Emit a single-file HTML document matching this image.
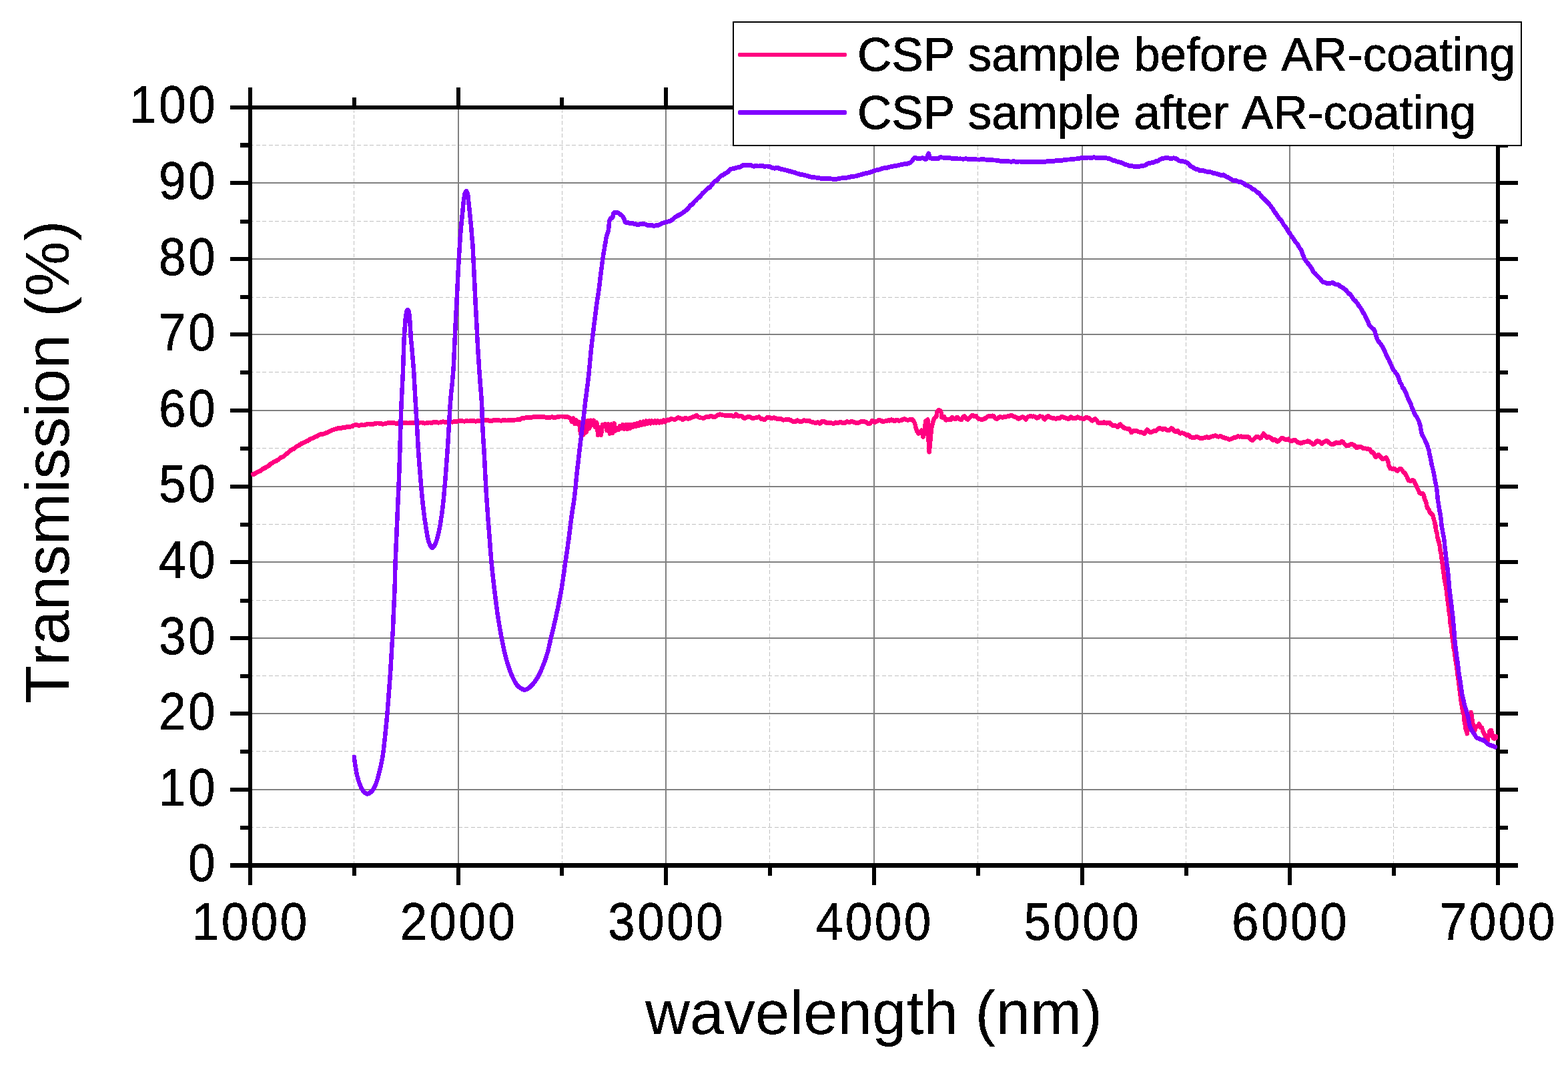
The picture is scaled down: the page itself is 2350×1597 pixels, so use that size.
<!DOCTYPE html>
<html lang="en">
<head>
<meta charset="utf-8">
<title>CSP sample transmission before and after AR-coating</title>
<style>
html,body{margin:0;padding:0;background:#ffffff;}
body{width:2350px;height:1597px;overflow:hidden;}
svg{display:block;}
</style>
</head>
<body>
<svg width="2350" height="1597" viewBox="0 0 2350 1597">
<rect x="0" y="0" width="2350" height="1597" fill="#ffffff"/>
<g stroke="#c0c0c0" stroke-width="1" stroke-dasharray="6 3.475" fill="none" shape-rendering="crispEdges">
<line x1="530.5" y1="162.5" x2="530.5" y2="1294"/>
<line x1="842.5" y1="162.5" x2="842.5" y2="1294"/>
<line x1="1153.5" y1="162.5" x2="1153.5" y2="1294"/>
<line x1="1465.5" y1="162.5" x2="1465.5" y2="1294"/>
<line x1="1777.5" y1="162.5" x2="1777.5" y2="1294"/>
<line x1="2088.5" y1="162.5" x2="2088.5" y2="1294"/>
<line x1="374.2" y1="1239.5" x2="2243" y2="1239.5"/>
<line x1="374.2" y1="1125.5" x2="2243" y2="1125.5"/>
<line x1="374.2" y1="1012.5" x2="2243" y2="1012.5"/>
<line x1="374.2" y1="899.5" x2="2243" y2="899.5"/>
<line x1="374.2" y1="785.5" x2="2243" y2="785.5"/>
<line x1="374.2" y1="671.5" x2="2243" y2="671.5"/>
<line x1="374.2" y1="557.5" x2="2243" y2="557.5"/>
<line x1="374.2" y1="445.5" x2="2243" y2="445.5"/>
<line x1="374.2" y1="331.5" x2="2243" y2="331.5"/>
<line x1="374.2" y1="217.5" x2="2243" y2="217.5"/>
</g>
<g fill="#808080" shape-rendering="crispEdges">
<rect x="686" y="162" width="2" height="1132"/>
<rect x="997" y="162" width="2" height="1132"/>
<rect x="1309" y="162" width="2" height="1132"/>
<rect x="1621" y="162" width="2" height="1132"/>
<rect x="1932" y="162" width="2" height="1132"/>
<rect x="376" y="1182" width="1868" height="2"/>
<rect x="376" y="1068" width="1868" height="2"/>
<rect x="376" y="955" width="1868" height="2"/>
<rect x="376" y="841" width="1868" height="2"/>
<rect x="376" y="728" width="1868" height="2"/>
<rect x="376" y="614" width="1868" height="2"/>
<rect x="376" y="500" width="1868" height="2"/>
<rect x="376" y="387" width="1868" height="2"/>
<rect x="376" y="273" width="1868" height="2"/>
</g>
<g fill="#000000" shape-rendering="crispEdges">
<rect x="345" y="158" width="1930" height="6"/>
<rect x="345" y="1293" width="1930" height="7"/>
<rect x="372" y="131" width="6" height="1195"/>
<rect x="2242" y="131" width="6" height="1195"/>
<rect x="528" y="146" width="6" height="15"/>
<rect x="528" y="1296" width="6" height="16"/>
<rect x="684" y="131" width="6" height="30"/>
<rect x="684" y="1296" width="6" height="30"/>
<rect x="839" y="146" width="6" height="15"/>
<rect x="839" y="1296" width="6" height="16"/>
<rect x="995" y="131" width="6" height="30"/>
<rect x="995" y="1296" width="6" height="30"/>
<rect x="1151" y="146" width="6" height="15"/>
<rect x="1151" y="1296" width="6" height="16"/>
<rect x="1307" y="131" width="6" height="30"/>
<rect x="1307" y="1296" width="6" height="30"/>
<rect x="1463" y="146" width="6" height="15"/>
<rect x="1463" y="1296" width="6" height="16"/>
<rect x="1619" y="131" width="6" height="30"/>
<rect x="1619" y="1296" width="6" height="30"/>
<rect x="1775" y="146" width="6" height="15"/>
<rect x="1775" y="1296" width="6" height="16"/>
<rect x="1930" y="131" width="6" height="30"/>
<rect x="1930" y="1296" width="6" height="30"/>
<rect x="2086" y="146" width="6" height="15"/>
<rect x="2086" y="1296" width="6" height="16"/>
<rect x="360" y="1237" width="15" height="6"/>
<rect x="2245" y="1237" width="15" height="6"/>
<rect x="345" y="1180" width="30" height="6"/>
<rect x="2245" y="1180" width="30" height="6"/>
<rect x="360" y="1123" width="15" height="6"/>
<rect x="2245" y="1123" width="15" height="6"/>
<rect x="345" y="1066" width="30" height="6"/>
<rect x="2245" y="1066" width="30" height="6"/>
<rect x="360" y="1010" width="15" height="6"/>
<rect x="2245" y="1010" width="15" height="6"/>
<rect x="345" y="953" width="30" height="6"/>
<rect x="2245" y="953" width="30" height="6"/>
<rect x="360" y="897" width="15" height="6"/>
<rect x="2245" y="897" width="15" height="6"/>
<rect x="345" y="839" width="30" height="6"/>
<rect x="2245" y="839" width="30" height="6"/>
<rect x="360" y="783" width="15" height="6"/>
<rect x="2245" y="783" width="15" height="6"/>
<rect x="345" y="726" width="30" height="6"/>
<rect x="2245" y="726" width="30" height="6"/>
<rect x="360" y="669" width="15" height="6"/>
<rect x="2245" y="669" width="15" height="6"/>
<rect x="345" y="612" width="30" height="6"/>
<rect x="2245" y="612" width="30" height="6"/>
<rect x="360" y="555" width="15" height="6"/>
<rect x="2245" y="555" width="15" height="6"/>
<rect x="345" y="498" width="30" height="6"/>
<rect x="2245" y="498" width="30" height="6"/>
<rect x="360" y="442" width="15" height="6"/>
<rect x="2245" y="442" width="15" height="6"/>
<rect x="345" y="385" width="30" height="6"/>
<rect x="2245" y="385" width="30" height="6"/>
<rect x="360" y="329" width="15" height="6"/>
<rect x="2245" y="329" width="15" height="6"/>
<rect x="345" y="271" width="30" height="6"/>
<rect x="2245" y="271" width="30" height="6"/>
<rect x="360" y="214" width="15" height="7"/>
<rect x="2245" y="214" width="15" height="7"/>
</g>
<g fill="none" stroke-linejoin="round" stroke-linecap="round" shape-rendering="crispEdges" transform="scale(1,1.06)">
<path d="M379.2,670.41 L380.6,670.04 L382.0,669.42 L383.4,668.50 L384.8,667.64 L386.2,667.06 L387.6,666.47 L389.0,665.91 L390.4,665.35 L391.6,664.47 L392.9,663.48 L394.1,662.61 L395.4,662.09 L396.6,661.56 L397.9,660.92 L399.1,660.26 L400.4,659.61 L401.6,658.98 L402.9,658.29 L404.1,657.11 L405.4,655.94 L406.6,655.18 L407.9,654.54 L409.2,653.78 L410.5,652.86 L411.8,652.03 L413.1,651.73 L414.4,651.42 L415.6,650.65 L416.9,649.79 L418.2,648.73 L419.5,647.52 L420.8,646.62 L422.0,646.40 L423.2,646.19 L424.4,645.43 L425.5,644.62 L426.7,643.71 L427.9,642.71 L429.1,641.73 L430.3,640.90 L431.5,640.07 L432.6,639.06 L433.8,637.97 L435.0,636.94 L436.2,636.11 L437.5,635.29 L438.7,634.84 L440.0,634.44 L441.2,633.70 L442.5,632.67 L443.7,631.69 L445.0,631.04 L446.2,630.39 L447.5,629.70 L448.7,629.00 L450.0,628.24 L451.2,627.37 L452.5,626.55 L453.8,626.13 L455.1,625.72 L456.4,625.11 L457.6,624.41 L458.9,623.78 L460.2,623.34 L461.5,622.91 L462.8,622.04 L464.1,621.15 L465.4,620.41 L466.7,619.92 L468.1,619.40 L469.4,618.75 L470.8,618.10 L472.1,617.61 L473.5,617.15 L474.8,616.58 L476.2,615.89 L477.5,615.20 L478.9,614.52 L480.2,613.84 L481.6,613.58 L483.0,613.58 L484.5,613.39 L485.9,612.91 L487.4,612.42 L488.8,611.84 L490.3,611.27 L491.7,610.70 L493.2,610.14 L494.6,609.48 L496.1,608.75 L497.5,608.07 L499.0,607.54 L500.4,607.01 L501.8,606.57 L503.3,606.30 L504.8,605.90 L506.3,605.45 L507.7,605.21 L509.2,605.35 L510.7,605.46 L512.2,604.91 L513.6,604.36 L515.1,604.20 L516.6,604.18 L518.1,603.91 L519.6,603.37 L521.1,602.91 L522.6,603.05 L524.1,603.18 L525.7,602.93 L527.2,602.62 L528.7,602.02 L530.2,601.21 L531.7,600.74 L533.2,600.75 L534.6,600.75 L536.1,601.05 L537.6,601.37 L539.0,601.29 L540.5,600.88 L542.0,600.59 L543.5,600.79 L544.9,600.98 L546.4,600.61 L547.9,600.10 L549.4,599.67 L550.8,599.32 L552.3,599.03 L553.8,599.25 L555.3,599.47 L556.7,599.50 L558.2,599.46 L559.7,599.26 L561.1,598.80 L562.6,598.34 L564.1,598.21 L565.7,598.07 L567.2,598.13 L568.7,598.28 L570.2,598.52 L571.8,598.92 L573.3,599.26 L574.8,599.11 L576.3,598.96 L577.8,598.58 L579.4,598.14 L580.9,597.96 L582.4,598.03 L583.9,598.06 L585.5,597.95 L587.0,597.84 L588.5,597.79 L590.0,597.75 L591.6,598.02 L593.1,598.48 L594.6,598.67 L596.1,598.24 L597.5,597.81 L599.0,597.99 L600.5,598.21 L602.0,598.23 L603.5,598.13 L605.0,598.00 L606.5,597.81 L608.0,597.61 L609.4,597.88 L610.9,598.19 L612.4,598.11 L613.9,597.69 L615.4,597.42 L616.9,597.71 L618.4,598.01 L619.9,597.75 L621.4,597.38 L622.8,597.27 L624.3,597.44 L625.8,597.56 L627.3,597.40 L628.8,597.24 L630.3,597.21 L631.7,597.22 L633.2,597.40 L634.7,597.82 L636.2,598.22 L637.7,598.08 L639.1,597.95 L640.6,597.67 L642.1,597.33 L643.6,597.17 L645.1,597.49 L646.6,597.80 L648.1,597.31 L649.6,596.81 L651.1,596.69 L652.6,596.75 L654.1,596.87 L655.6,597.11 L657.1,597.34 L658.6,597.15 L660.1,596.95 L661.6,596.61 L663.1,596.20 L664.6,596.11 L666.1,596.62 L667.6,597.12 L669.1,596.56 L670.6,596.00 L672.1,595.80 L673.6,595.77 L675.1,595.85 L676.6,596.12 L678.1,596.38 L679.6,596.03 L681.1,595.69 L682.6,595.52 L684.1,595.45 L685.6,595.34 L687.1,595.15 L688.7,594.96 L690.2,594.93 L691.7,594.89 L693.2,595.08 L694.7,595.35 L696.2,595.40 L697.7,595.13 L699.2,594.91 L700.7,595.10 L702.2,595.28 L703.8,595.16 L705.3,594.97 L706.8,594.87 L708.3,594.87 L709.8,594.92 L711.3,595.20 L712.8,595.48 L714.3,595.23 L715.8,594.87 L717.3,594.71 L718.9,594.72 L720.4,594.76 L721.9,594.90 L723.4,595.04 L724.9,594.64 L726.4,594.16 L727.9,593.91 L729.4,593.86 L730.9,593.92 L732.4,594.37 L733.9,594.82 L735.4,594.79 L736.9,594.69 L738.4,594.43 L739.9,594.02 L741.4,593.69 L742.9,593.62 L744.4,593.55 L745.9,593.83 L747.4,594.15 L748.9,594.34 L750.4,594.43 L751.9,594.38 L753.4,593.87 L754.9,593.35 L756.4,593.71 L757.9,594.16 L759.4,594.31 L760.9,594.23 L762.4,594.12 L763.9,593.90 L765.3,593.80 L766.8,593.76 L768.2,593.72 L769.6,593.65 L771.1,593.53 L772.5,593.41 L773.9,593.44 L775.4,592.91 L776.9,592.81 L778.3,592.94 L779.8,592.62 L781.3,591.65 L782.7,590.80 L784.2,590.62 L785.6,590.82 L787.1,590.55 L788.5,590.18 L790.0,590.06 L791.4,590.33 L792.9,590.59 L794.3,590.36 L795.8,590.12 L797.2,589.86 L798.7,589.58 L800.1,589.32 L801.6,589.15 L803.0,588.99 L804.4,589.13 L806.0,589.51 L807.5,589.56 L809.0,589.16 L810.5,588.81 L812.0,588.94 L813.6,589.07 L815.1,589.28 L816.6,589.52 L818.1,589.75 L819.6,589.96 L821.2,590.10 L822.7,589.97 L824.2,589.83 L825.7,589.64 L827.2,589.44 L828.8,589.63 L830.3,590.07 L831.8,590.24 L833.3,589.80 L834.8,589.35 L836.3,589.08 L837.7,588.81 L839.2,588.70 L840.6,588.71 L842.1,588.70 L843.5,588.77 L845.0,588.67 L846.5,588.85 L848.0,588.99 L849.6,589.22 L851.1,589.52 L852.4,590.10 L853.7,590.69 L855.0,591.29 L855.5,592.57 L856.1,593.85 L856.6,595.08 L857.1,596.17 L857.7,594.81 L858.2,593.62 L858.8,592.47 L859.3,591.34 L859.8,592.92 L860.2,594.51 L860.6,595.95 L861.1,597.39 L861.5,598.72 L862.2,597.11 L863.0,595.59 L863.7,594.11 L864.2,595.46 L864.8,596.80 L865.3,598.09 L865.9,599.31 L867.0,597.93 L868.1,596.66 L868.3,598.05 L868.5,599.48 L868.7,600.90 L868.8,602.53 L869.0,604.25 L869.2,605.83 L869.4,607.19 L869.6,608.56 L869.8,610.08 L870.0,611.59 L870.2,612.79 L870.4,611.08 L870.6,609.63 L870.8,608.43 L871.0,607.19 L871.2,605.74 L871.4,604.29 L871.6,602.95 L871.8,601.63 L872.0,600.21 L872.2,598.67 L872.4,597.19 L872.6,598.80 L872.8,600.42 L873.0,601.63 L873.1,602.73 L873.3,604.02 L873.5,605.57 L873.7,607.11 L873.9,608.57 L874.1,610.03 L874.2,611.48 L874.4,612.93 L874.6,614.33 L874.8,612.84 L875.0,611.35 L875.1,609.90 L875.3,608.45 L875.5,607.04 L875.7,605.63 L875.9,604.23 L876.1,602.83 L876.2,601.37 L876.4,599.74 L876.6,598.12 L876.8,596.79 L877.0,598.26 L877.2,599.71 L877.4,601.15 L877.7,602.57 L877.9,603.93 L878.1,605.29 L878.3,606.53 L878.5,607.76 L878.7,609.12 L879.0,610.61 L879.2,609.26 L879.4,607.82 L879.6,606.38 L879.8,604.83 L880.0,603.27 L880.2,601.79 L880.4,600.35 L880.6,598.86 L880.8,597.32 L880.9,595.81 L881.1,594.41 L881.4,595.82 L881.7,597.17 L882.0,598.52 L882.2,599.79 L882.5,600.97 L882.8,602.16 L883.1,603.68 L883.3,605.20 L883.6,603.95 L883.9,602.68 L884.1,601.36 L884.4,599.94 L884.7,598.52 L885.0,597.09 L885.2,595.66 L885.5,594.19 L885.9,595.30 L886.4,596.44 L886.8,597.75 L887.3,599.07 L887.7,600.31 L888.2,598.81 L888.8,597.31 L889.3,595.81 L889.9,594.34 L890.2,595.77 L890.5,597.20 L890.8,598.38 L891.1,599.46 L891.4,600.63 L891.7,602.14 L892.1,603.65 L892.5,602.25 L892.9,600.75 L893.4,599.37 L893.8,598.26 L894.2,597.15 L894.4,598.50 L894.6,599.82 L894.7,601.12 L894.9,602.40 L895.1,603.68 L895.2,605.19 L895.4,606.69 L895.6,608.06 L895.7,609.36 L895.9,610.67 L896.1,612.06 L896.3,613.46 L896.4,614.89 L896.7,613.52 L897.0,611.96 L897.4,610.25 L897.7,608.58 L898.0,607.01 L898.3,605.47 L898.6,604.09 L898.9,605.53 L899.1,606.99 L899.4,608.46 L899.7,609.80 L900.0,611.00 L900.2,612.21 L900.5,613.55 L900.8,614.89 L901.0,613.67 L901.2,612.54 L901.4,611.32 L901.6,609.88 L901.8,608.44 L902.0,607.01 L902.2,605.57 L902.4,604.24 L902.6,603.01 L902.8,601.77 L903.0,600.23 L904.1,601.28 L905.1,602.63 L905.9,601.66 L906.6,600.57 L907.3,599.36 L907.7,600.64 L908.1,602.13 L908.4,603.63 L908.8,605.16 L909.1,606.71 L909.5,608.20 L909.9,606.82 L910.2,605.42 L910.6,603.99 L911.0,602.56 L911.3,600.98 L911.7,599.39 L911.9,600.85 L912.2,602.37 L912.4,603.81 L912.7,605.17 L912.9,606.54 L913.1,607.93 L913.4,609.32 L913.6,610.89 L913.9,612.47 L914.1,611.13 L914.4,609.79 L914.6,608.40 L914.8,606.95 L915.1,605.49 L915.3,604.00 L915.6,602.50 L915.8,601.13 L916.1,599.76 L916.3,601.01 L916.5,602.19 L916.8,603.44 L917.0,604.80 L917.3,606.17 L917.5,607.66 L917.8,609.14 L918.0,610.52 L918.2,611.86 L918.5,610.46 L918.7,609.09 L918.9,607.71 L919.1,606.42 L919.3,605.13 L919.5,603.84 L919.8,602.55 L920.0,601.24 L920.2,599.85 L920.4,598.45 L920.7,599.79 L921.0,601.14 L921.4,602.58 L921.7,604.15 L922.0,605.71 L922.3,607.15 L922.6,608.60 L923.3,607.52 L924.1,606.41 L924.8,605.29 L925.9,606.34 L927.0,607.39 L927.5,605.90 L928.1,604.42 L928.6,603.19 L929.1,602.02 L929.9,603.27 L930.6,604.33 L931.3,605.63 L931.9,604.44 L932.4,603.16 L933.0,601.69 L933.5,600.21 L934.1,601.55 L934.6,602.88 L935.1,604.46 L935.7,606.05 L936.2,604.56 L936.8,602.97 L937.3,601.50 L937.9,600.20 L938.4,601.73 L939.0,603.32 L939.5,604.88 L940.1,606.20 L940.5,604.79 L940.9,603.68 L941.4,602.64 L941.8,601.44 L942.2,599.97 L942.8,601.19 L943.3,602.57 L943.9,603.95 L944.4,605.33 L945.0,603.88 L945.5,602.59 L946.1,601.38 L946.6,600.05 L947.3,601.04 L948.1,602.04 L948.8,603.14 L949.5,601.90 L950.2,600.64 L951.0,599.35 L951.7,600.37 L952.4,601.43 L953.1,602.48 L953.9,601.10 L954.6,599.71 L955.3,598.25 L956.1,599.32 L956.8,600.38 L957.5,601.39 L958.1,600.07 L958.6,598.89 L959.1,597.79 L959.7,596.69 L960.4,597.87 L961.1,599.05 L961.9,600.26 L962.6,598.70 L963.3,597.29 L964.0,595.97 L964.8,597.28 L965.5,598.56 L966.2,599.79 L967.0,598.17 L967.7,596.57 L968.4,595.18 L969.1,596.35 L969.9,597.52 L970.6,598.68 L971.3,597.48 L972.0,596.33 L972.8,595.16 L973.5,596.17 L974.2,597.18 L975.0,598.22 L975.7,597.12 L976.4,596.02 L977.1,594.94 L978.2,596.37 L979.3,597.64 L980.0,596.57 L980.8,595.57 L981.5,594.71 L982.6,596.19 L983.7,597.56 L984.8,596.41 L985.9,594.93 L987.0,595.83 L988.0,597.26 L989.1,596.42 L990.2,595.30 L991.3,596.15 L992.4,596.95 L993.5,595.36 L994.6,593.92 L995.7,595.06 L996.8,596.19 L997.5,595.25 L998.2,594.32 L999.0,593.40 L1000.5,593.33 L1002.0,594.27 L1003.5,593.27 L1005.0,592.27 L1006.6,592.26 L1008.1,592.39 L1009.6,592.63 L1011.1,592.96 L1012.3,592.63 L1013.5,591.87 L1014.7,591.11 L1015.8,590.56 L1017.0,590.13 L1018.4,591.07 L1019.7,591.21 L1021.0,591.54 L1022.3,592.83 L1023.8,592.83 L1025.3,591.86 L1026.9,590.87 L1028.4,590.96 L1029.9,591.49 L1031.4,591.73 L1032.8,591.46 L1034.2,591.16 L1035.6,590.47 L1037.1,589.79 L1038.5,589.40 L1039.9,589.10 L1041.3,588.44 L1042.8,587.83 L1044.2,587.21 L1045.6,588.33 L1047.1,589.47 L1048.5,590.12 L1049.9,590.36 L1051.4,590.60 L1052.8,590.72 L1054.2,590.84 L1055.7,590.52 L1057.2,589.67 L1058.7,589.22 L1060.2,589.45 L1061.8,589.60 L1063.3,588.71 L1064.8,587.81 L1066.3,588.22 L1067.8,588.98 L1069.3,589.29 L1070.7,589.09 L1072.1,588.89 L1073.5,588.03 L1074.9,587.17 L1076.4,586.51 L1077.8,586.00 L1079.2,585.59 L1080.6,585.99 L1082.0,586.40 L1083.7,586.71 L1085.3,586.89 L1086.9,587.17 L1088.5,587.53 L1090.2,587.58 L1091.7,587.61 L1093.2,587.58 L1094.7,587.31 L1096.2,587.04 L1097.5,587.81 L1098.9,588.61 L1100.2,588.36 L1101.6,586.98 L1102.9,585.59 L1104.3,586.24 L1105.8,587.89 L1107.2,588.26 L1108.7,587.76 L1110.1,587.67 L1111.6,588.41 L1113.0,589.18 L1114.5,590.39 L1116.0,591.15 L1117.5,590.59 L1119.0,589.63 L1120.5,589.16 L1122.1,589.22 L1123.6,589.38 L1125.1,590.01 L1126.6,590.64 L1128.0,590.69 L1129.4,590.70 L1130.8,590.67 L1132.1,590.56 L1133.5,590.45 L1134.9,589.99 L1136.3,589.49 L1137.6,589.23 L1138.9,590.60 L1140.2,591.71 L1141.5,591.90 L1142.8,592.18 L1144.3,592.72 L1145.7,593.26 L1147.1,592.50 L1148.6,591.08 L1150.0,590.03 L1151.5,590.09 L1152.9,590.16 L1154.4,590.55 L1156.0,590.98 L1157.5,590.97 L1159.0,590.56 L1160.5,590.40 L1162.0,591.04 L1163.6,591.68 L1165.1,591.56 L1166.5,591.67 L1168.0,591.75 L1169.4,591.82 L1170.9,592.04 L1172.4,592.77 L1173.8,593.50 L1175.3,593.44 L1176.8,593.21 L1178.3,593.01 L1179.8,592.84 L1181.3,592.79 L1182.8,593.12 L1184.4,593.44 L1185.9,594.36 L1187.4,595.31 L1188.9,595.81 L1190.4,596.11 L1191.9,595.94 L1193.4,595.07 L1194.9,593.98 L1196.3,594.75 L1197.8,595.52 L1199.3,595.74 L1200.7,595.72 L1202.2,595.42 L1203.6,594.56 L1205.1,594.15 L1206.5,594.44 L1207.9,594.77 L1209.4,594.76 L1210.8,594.46 L1212.3,594.33 L1213.7,595.09 L1215.2,595.98 L1216.7,596.36 L1218.3,596.66 L1219.8,597.09 L1221.3,597.60 L1222.8,597.71 L1224.3,597.13 L1225.8,596.87 L1227.1,597.63 L1228.3,598.39 L1229.6,598.01 L1230.8,596.81 L1232.0,595.63 L1233.5,595.69 L1235.1,595.75 L1236.6,596.43 L1238.1,597.30 L1239.6,597.68 L1241.1,597.55 L1242.7,597.47 L1244.2,597.60 L1245.6,597.68 L1247.0,598.10 L1248.5,598.58 L1249.9,598.51 L1251.3,597.77 L1252.8,597.08 L1254.2,597.96 L1255.4,598.07 L1256.7,597.73 L1257.9,597.00 L1259.1,596.26 L1260.4,596.45 L1261.9,597.43 L1263.5,597.83 L1265.1,597.88 L1266.6,597.55 L1268.2,596.60 L1269.8,595.88 L1271.3,596.31 L1272.9,596.75 L1274.5,596.36 L1275.8,595.87 L1277.2,595.86 L1278.6,596.30 L1280.0,596.73 L1281.5,597.14 L1283.0,597.56 L1284.4,597.68 L1285.9,597.65 L1287.4,597.38 L1288.9,596.56 L1290.4,595.74 L1291.8,595.81 L1293.2,595.90 L1294.6,596.01 L1296.0,596.14 L1297.4,596.36 L1298.8,597.31 L1300.2,598.27 L1301.6,599.10 L1303.0,598.97 L1304.3,598.28 L1305.7,596.45 L1307.1,594.66 L1308.4,595.06 L1309.7,596.47 L1311.0,596.70 L1312.3,596.10 L1313.6,595.60 L1314.8,595.07 L1315.9,594.53 L1317.1,593.87 L1318.5,594.03 L1319.9,594.26 L1321.3,595.03 L1322.7,595.80 L1324.1,595.81 L1325.5,595.39 L1326.9,595.06 L1328.3,595.21 L1329.4,594.69 L1330.6,594.33 L1331.7,594.11 L1333.2,594.57 L1334.6,593.92 L1336.0,593.23 L1337.5,593.44 L1338.9,594.44 L1340.4,595.25 L1342.0,594.31 L1343.6,593.37 L1345.2,593.92 L1346.8,594.62 L1348.4,594.54 L1350.0,594.18 L1351.6,594.00 L1353.0,592.98 L1354.4,592.28 L1355.8,591.94 L1357.3,592.84 L1358.7,593.33 L1360.2,593.83 L1361.5,593.53 L1362.9,593.23 L1364.3,593.03 L1365.7,592.87 L1367.0,592.74 L1367.9,593.82 L1368.8,594.91 L1369.7,595.61 L1370.2,596.45 L1370.7,597.52 L1371.2,599.05 L1371.8,600.70 L1372.3,602.87 L1372.7,604.81 L1373.1,606.18 L1373.6,607.50 L1374.0,608.73 L1374.4,609.87 L1375.5,611.01 L1376.6,612.74 L1377.8,612.10 L1378.9,610.60 L1380.1,609.09 L1381.3,608.39 L1381.6,610.03 L1381.9,610.85 L1382.2,611.24 L1382.5,611.88 L1382.8,613.89 L1383.2,615.91 L1383.5,617.51 L1383.9,616.23 L1384.3,614.96 L1384.8,613.71 L1385.2,612.42 L1385.6,610.10 L1385.8,607.87 L1385.9,606.24 L1386.1,604.89 L1386.2,603.77 L1386.4,603.31 L1386.5,602.85 L1386.6,600.75 L1386.8,598.35 L1386.9,596.88 L1387.1,596.68 L1387.2,596.47 L1387.4,594.95 L1388.9,594.35 L1390.4,593.01 L1390.4,593.26 L1390.5,594.02 L1390.5,595.58 L1390.6,597.16 L1390.6,599.30 L1390.7,601.44 L1390.7,602.60 L1390.8,603.29 L1390.8,604.13 L1390.8,605.28 L1390.9,606.43 L1390.9,608.88 L1391.0,611.40 L1391.0,612.88 L1391.1,613.66 L1391.1,614.71 L1391.2,616.67 L1391.2,618.63 L1391.3,619.23 L1391.4,619.63 L1391.5,620.95 L1391.6,622.84 L1391.8,624.74 L1391.9,626.64 L1392.0,628.41 L1392.1,628.81 L1392.2,629.21 L1392.3,630.71 L1392.4,632.45 L1392.5,634.46 L1392.6,636.68 L1392.7,638.78 L1392.9,637.69 L1393.0,636.59 L1393.1,635.22 L1393.3,633.86 L1393.4,631.39 L1393.6,628.58 L1393.7,626.77 L1393.8,625.94 L1394.0,625.05 L1394.1,623.99 L1394.3,622.94 L1394.4,621.09 L1394.5,619.23 L1394.7,617.88 L1394.9,616.71 L1395.1,615.02 L1395.3,612.77 L1395.5,610.65 L1395.7,609.00 L1395.9,607.35 L1396.0,605.95 L1396.2,604.54 L1396.4,603.01 L1396.6,601.44 L1396.8,600.34 L1397.2,599.79 L1397.6,599.16 L1397.9,597.80 L1398.3,596.45 L1398.7,595.18 L1399.0,593.96 L1399.4,592.60 L1400.7,591.14 L1402.0,589.69 L1403.3,588.90 L1403.5,587.57 L1403.7,586.22 L1403.9,584.85 L1404.0,583.72 L1404.2,583.30 L1404.4,582.88 L1404.6,581.79 L1405.9,580.84 L1407.2,579.56 L1408.0,580.57 L1408.9,580.87 L1409.7,580.74 L1410.1,581.19 L1410.4,582.58 L1410.8,584.01 L1411.2,586.87 L1411.5,589.73 L1412.8,589.81 L1414.1,589.44 L1415.3,589.16 L1416.0,590.71 L1416.7,592.25 L1417.3,593.27 L1418.0,593.79 L1419.3,593.08 L1420.7,593.16 L1422.1,593.27 L1423.5,593.33 L1424.9,593.31 L1425.4,592.30 L1426.0,591.15 L1426.6,589.97 L1427.9,590.50 L1429.2,591.34 L1430.5,592.18 L1431.8,592.19 L1432.9,590.88 L1434.1,589.75 L1435.2,590.12 L1436.7,591.53 L1438.2,592.38 L1439.7,592.92 L1441.2,593.01 L1442.3,591.07 L1443.4,589.14 L1444.5,588.61 L1445.6,588.09 L1446.6,589.42 L1447.6,590.76 L1448.7,591.95 L1449.7,592.38 L1450.7,592.82 L1451.9,591.55 L1453.0,590.33 L1454.2,589.22 L1455.3,588.28 L1456.5,587.35 L1457.6,586.99 L1458.9,587.94 L1460.2,588.23 L1461.5,587.99 L1462.8,587.81 L1464.1,589.52 L1465.4,591.23 L1466.8,592.12 L1468.2,592.33 L1469.5,592.54 L1470.9,592.74 L1472.3,592.94 L1473.7,592.42 L1475.0,592.03 L1476.4,591.46 L1477.7,590.48 L1479.1,589.49 L1480.4,588.52 L1481.9,587.99 L1483.3,587.86 L1484.8,587.95 L1486.2,587.96 L1487.6,587.62 L1488.9,588.13 L1490.1,589.28 L1491.3,590.61 L1492.6,591.67 L1493.8,592.05 L1495.2,591.46 L1496.7,590.39 L1498.1,589.24 L1499.5,588.99 L1501.0,589.65 L1502.4,590.17 L1503.9,589.59 L1505.3,589.14 L1506.8,588.92 L1508.2,588.77 L1509.7,588.62 L1511.2,588.48 L1512.6,588.33 L1514.1,587.51 L1515.7,587.02 L1517.3,587.69 L1518.9,588.70 L1520.6,589.18 L1522.2,589.35 L1523.2,590.05 L1524.2,590.60 L1525.2,591.15 L1526.2,591.96 L1527.7,591.38 L1529.2,590.75 L1530.7,590.05 L1532.2,589.12 L1533.5,589.46 L1534.8,590.06 L1536.1,591.53 L1537.4,592.85 L1538.8,591.03 L1540.2,589.21 L1541.6,588.77 L1543.0,588.47 L1544.4,587.99 L1545.9,588.66 L1547.4,588.79 L1549.0,588.50 L1550.5,588.73 L1552.1,589.77 L1553.6,590.78 L1554.9,590.42 L1556.1,590.05 L1557.4,589.25 L1558.6,588.43 L1560.1,588.65 L1561.5,588.66 L1562.9,589.44 L1564.3,591.24 L1565.8,592.69 L1567.1,591.28 L1568.5,589.87 L1569.8,588.37 L1571.3,588.26 L1572.7,589.07 L1574.2,589.96 L1575.7,590.46 L1577.1,590.71 L1578.6,590.99 L1580.1,591.33 L1581.5,591.66 L1583.0,591.83 L1584.3,591.02 L1585.7,591.01 L1587.0,591.35 L1588.4,591.19 L1589.7,590.05 L1591.1,588.92 L1592.6,589.35 L1594.1,589.80 L1595.7,590.24 L1597.2,590.69 L1598.7,591.26 L1600.2,591.96 L1601.7,592.14 L1603.2,590.95 L1604.8,589.37 L1606.3,590.18 L1607.8,590.98 L1609.3,591.26 L1610.8,591.33 L1612.4,591.00 L1613.9,590.13 L1615.4,589.38 L1616.8,590.17 L1618.1,590.96 L1619.5,591.17 L1620.8,591.21 L1622.2,591.56 L1623.5,592.35 L1624.9,591.62 L1626.2,590.94 L1627.6,590.13 L1628.9,590.22 L1630.3,590.31 L1631.6,590.89 L1633.0,591.61 L1634.3,592.60 L1635.7,594.07 L1637.2,594.66 L1638.7,593.66 L1640.2,592.65 L1641.8,592.06 L1642.8,592.93 L1643.8,594.12 L1644.8,595.71 L1645.8,597.31 L1646.8,597.70 L1647.8,598.05 L1649.4,597.75 L1650.9,598.06 L1652.4,597.98 L1653.9,597.03 L1655.4,596.92 L1656.8,597.58 L1658.3,598.24 L1659.7,597.89 L1661.2,597.16 L1662.6,597.20 L1664.1,598.41 L1665.4,599.81 L1666.8,600.70 L1668.1,601.60 L1669.5,601.45 L1670.8,600.98 L1672.2,601.65 L1673.6,602.60 L1675.0,603.31 L1676.4,601.76 L1677.8,600.20 L1679.3,599.85 L1680.3,601.28 L1681.3,602.41 L1682.3,602.93 L1683.3,603.45 L1684.3,604.79 L1685.8,605.29 L1687.4,605.63 L1688.9,605.81 L1690.4,605.75 L1691.7,605.84 L1692.9,606.25 L1694.2,608.83 L1695.5,611.28 L1696.9,610.22 L1698.3,609.17 L1699.7,608.71 L1701.1,608.59 L1702.5,608.45 L1703.8,609.13 L1705.0,609.81 L1706.2,610.21 L1707.4,610.46 L1708.6,610.74 L1710.1,610.98 L1711.7,611.23 L1713.2,612.09 L1714.7,613.06 L1715.6,612.22 L1716.5,611.10 L1717.4,609.98 L1718.3,608.60 L1719.2,607.22 L1720.6,608.31 L1722.0,609.91 L1723.4,610.79 L1724.8,610.93 L1726.4,610.24 L1727.9,609.69 L1729.4,609.19 L1730.9,609.44 L1732.1,609.06 L1733.3,608.26 L1734.5,607.26 L1735.7,606.33 L1736.9,605.78 L1738.0,605.23 L1739.5,605.75 L1740.9,606.49 L1742.3,606.92 L1743.7,606.27 L1745.1,605.61 L1746.4,606.25 L1747.8,607.22 L1749.1,608.00 L1750.5,608.04 L1751.8,608.08 L1753.2,607.62 L1754.5,606.35 L1755.7,605.15 L1757.0,606.10 L1758.3,607.05 L1759.6,608.71 L1760.8,609.55 L1762.1,610.01 L1763.4,609.50 L1764.7,608.64 L1766.1,610.20 L1767.4,611.82 L1768.8,612.47 L1770.1,612.19 L1771.5,611.94 L1773.0,612.26 L1774.5,612.58 L1776.0,613.42 L1777.5,614.44 L1778.7,615.17 L1779.9,614.88 L1781.2,614.81 L1782.4,616.08 L1783.6,617.34 L1785.1,617.95 L1786.6,618.59 L1788.2,618.73 L1789.7,618.40 L1791.2,618.05 L1792.7,617.65 L1794.2,617.26 L1795.8,617.95 L1797.3,618.94 L1798.8,619.27 L1800.3,619.20 L1801.8,619.11 L1803.4,618.96 L1804.9,618.79 L1806.4,618.21 L1807.9,617.63 L1809.3,617.74 L1810.6,618.21 L1812.0,618.48 L1813.3,617.99 L1814.7,617.50 L1816.1,616.94 L1817.5,616.56 L1818.9,616.22 L1820.4,616.00 L1821.8,615.78 L1823.2,616.28 L1824.7,616.98 L1826.1,617.23 L1827.6,616.79 L1829.0,616.35 L1830.5,616.95 L1831.9,617.60 L1833.4,618.17 L1834.9,618.67 L1836.3,619.06 L1837.5,619.40 L1838.7,619.74 L1839.9,620.10 L1841.1,620.47 L1842.3,620.94 L1843.7,620.79 L1845.0,620.64 L1846.4,619.89 L1847.7,619.00 L1849.1,618.50 L1850.4,618.41 L1852.0,618.31 L1853.5,617.44 L1855.0,616.63 L1856.6,616.94 L1858.1,617.24 L1859.6,616.80 L1861.1,617.21 L1862.6,617.44 L1864.1,617.57 L1865.5,617.51 L1867.0,617.19 L1868.5,617.00 L1870.0,617.35 L1871.5,617.74 L1873.0,619.58 L1874.5,621.43 L1876.0,622.00 L1877.5,622.37 L1878.8,621.17 L1880.1,619.93 L1881.4,618.60 L1882.7,617.19 L1884.2,617.36 L1885.7,617.70 L1887.2,618.24 L1888.8,619.40 L1889.6,618.89 L1890.4,617.61 L1891.3,616.31 L1892.1,615.13 L1892.9,614.04 L1893.8,612.96 L1894.8,614.10 L1895.8,615.23 L1896.8,616.47 L1897.9,617.74 L1898.9,618.38 L1900.2,617.96 L1901.6,617.67 L1902.9,618.14 L1904.3,618.62 L1905.6,619.75 L1907.0,621.20 L1908.3,621.90 L1909.7,621.67 L1911.0,621.43 L1912.1,622.41 L1913.1,623.41 L1914.1,624.03 L1915.1,623.79 L1916.1,623.55 L1917.1,622.49 L1918.1,621.47 L1919.1,620.64 L1920.2,619.92 L1921.2,619.16 L1922.8,619.70 L1924.4,620.25 L1926.0,620.87 L1927.7,621.42 L1929.3,620.82 L1930.7,620.56 L1932.1,621.58 L1933.5,622.83 L1935.0,623.25 L1936.4,623.07 L1938.1,622.28 L1939.8,622.02 L1941.4,622.08 L1942.8,623.46 L1944.1,624.83 L1945.5,625.18 L1946.8,625.49 L1948.2,625.98 L1949.5,626.60 L1951.0,626.33 L1952.4,625.63 L1953.9,624.93 L1955.3,624.68 L1956.8,624.53 L1958.2,624.14 L1959.7,623.42 L1961.0,623.54 L1962.4,624.22 L1963.7,624.90 L1965.1,625.83 L1966.4,626.91 L1967.8,627.89 L1969.0,627.41 L1970.3,626.93 L1971.6,625.50 L1972.9,623.76 L1974.2,623.26 L1975.6,623.57 L1976.9,623.89 L1978.3,624.87 L1979.6,626.09 L1981.0,627.07 L1982.2,626.12 L1983.3,625.17 L1984.5,624.55 L1985.7,624.07 L1986.9,623.39 L1988.1,623.39 L1989.3,623.40 L1990.4,624.28 L1991.6,625.42 L1992.7,626.36 L1993.9,626.94 L1995.0,627.52 L1996.5,627.81 L1997.9,628.14 L1999.3,627.40 L2000.8,626.16 L2002.2,625.41 L2003.7,625.59 L2005.2,625.78 L2006.7,626.04 L2008.2,626.30 L2009.7,625.22 L2011.2,623.91 L2012.5,624.64 L2013.7,625.97 L2015.0,627.29 L2016.2,628.58 L2017.5,629.86 L2019.1,629.96 L2020.7,629.95 L2022.3,628.93 L2024.0,627.91 L2025.6,627.59 L2026.8,628.23 L2028.0,628.68 L2029.1,629.01 L2030.3,629.60 L2031.5,631.46 L2032.9,632.87 L2034.3,632.64 L2035.7,631.74 L2037.1,631.15 L2038.5,631.42 L2039.9,631.70 L2041.3,632.54 L2042.7,633.52 L2044.3,633.97 L2046.0,633.90 L2047.6,633.96 L2049.2,634.36 L2050.8,634.63 L2051.9,634.98 L2052.9,635.32 L2053.9,636.44 L2054.9,638.02 L2055.9,639.38 L2057.0,639.27 L2057.8,639.40 L2058.6,640.49 L2059.4,641.93 L2060.2,643.58 L2061.0,645.51 L2062.3,645.76 L2063.6,644.66 L2064.8,643.56 L2066.1,642.84 L2067.3,643.94 L2068.5,645.04 L2069.7,646.40 L2070.8,647.79 L2072.0,648.88 L2073.3,648.59 L2074.6,648.31 L2075.9,647.58 L2077.2,646.78 L2077.8,647.47 L2078.5,648.45 L2079.1,649.43 L2079.7,650.79 L2080.3,652.27 L2080.7,653.92 L2081.0,655.74 L2081.4,657.56 L2081.8,658.58 L2082.1,659.34 L2082.5,660.15 L2082.9,661.08 L2083.2,662.01 L2084.5,662.17 L2085.8,662.56 L2087.1,662.73 L2088.4,662.10 L2089.9,662.46 L2091.4,663.54 L2092.9,664.72 L2094.5,665.48 L2095.8,664.48 L2097.2,663.42 L2098.5,662.34 L2099.5,662.99 L2100.5,663.39 L2101.6,664.52 L2102.6,666.33 L2103.6,667.61 L2104.6,667.98 L2105.4,668.49 L2106.1,669.67 L2106.9,670.86 L2107.6,672.11 L2108.4,673.40 L2109.2,674.88 L2109.9,676.84 L2110.7,678.80 L2112.0,679.30 L2113.4,679.69 L2114.7,679.70 L2116.1,679.20 L2117.4,678.70 L2118.8,679.28 L2119.5,680.67 L2120.1,681.96 L2120.8,683.18 L2121.5,684.40 L2122.2,685.61 L2122.8,686.82 L2123.5,688.17 L2124.1,689.54 L2124.7,690.87 L2125.3,692.17 L2125.9,693.42 L2126.6,694.44 L2127.2,695.45 L2127.8,697.22 L2129.5,697.59 L2131.2,697.78 L2133.0,697.91 L2133.4,699.12 L2133.8,700.10 L2134.2,701.42 L2134.6,703.26 L2135.1,705.01 L2135.5,705.96 L2135.9,706.91 L2136.4,707.70 L2136.8,708.44 L2137.3,709.81 L2137.7,712.02 L2138.1,714.20 L2138.6,715.72 L2139.0,717.23 L2139.5,717.97 L2140.1,718.37 L2140.6,718.93 L2141.1,719.84 L2141.6,720.75 L2142.1,722.73 L2143.3,724.45 L2144.6,725.65 L2145.9,726.61 L2147.1,727.57 L2147.6,728.98 L2148.0,730.50 L2148.4,732.50 L2148.9,734.51 L2149.3,735.51 L2149.8,736.40 L2150.2,737.72 L2150.4,739.38 L2150.7,740.62 L2150.9,740.88 L2151.2,741.15 L2151.4,743.33 L2151.6,745.50 L2151.9,747.41 L2152.1,749.20 L2152.4,750.37 L2152.7,750.68 L2153.0,751.03 L2153.3,752.41 L2153.6,753.78 L2153.9,755.87 L2154.2,758.25 L2154.6,760.42 L2155.0,762.11 L2155.4,763.57 L2155.8,763.69 L2156.1,763.82 L2156.5,765.96 L2156.9,768.27 L2157.3,769.45 L2157.5,770.09 L2157.7,771.36 L2158.0,773.67 L2158.2,775.95 L2158.5,777.20 L2158.7,778.44 L2159.0,779.36 L2159.2,780.13 L2159.4,781.11 L2159.7,782.47 L2159.9,783.84 L2160.1,786.07 L2160.4,788.29 L2160.6,789.71 L2160.8,790.73 L2161.0,791.99 L2161.2,793.76 L2161.5,795.52 L2161.7,796.36 L2161.9,797.19 L2162.1,798.32 L2162.3,799.63 L2162.5,801.23 L2162.7,803.57 L2162.9,805.90 L2163.0,806.95 L2163.2,807.89 L2163.4,808.92 L2163.6,810.03 L2163.8,811.21 L2163.9,812.66 L2164.1,814.11 L2164.3,815.73 L2164.6,817.38 L2164.8,818.90 L2165.1,820.25 L2165.4,821.64 L2165.7,823.32 L2166.0,825.01 L2166.3,825.91 L2166.5,826.52 L2166.8,827.64 L2167.1,829.65 L2167.4,831.65 L2167.6,832.76 L2167.8,833.88 L2167.9,835.30 L2168.1,836.93 L2168.3,838.51 L2168.5,839.79 L2168.6,841.08 L2168.8,842.44 L2169.0,843.84 L2169.2,845.25 L2169.4,846.69 L2169.5,848.12 L2169.7,849.58 L2169.9,851.03 L2170.1,852.22 L2170.2,853.11 L2170.4,854.04 L2170.6,855.23 L2170.8,856.43 L2171.0,857.95 L2171.1,859.60 L2171.3,861.20 L2171.5,862.71 L2171.7,864.22 L2171.8,865.07 L2172.0,865.87 L2172.2,866.97 L2172.4,868.34 L2172.5,869.64 L2172.7,870.60 L2172.9,871.55 L2173.0,873.46 L2173.2,875.71 L2173.4,877.79 L2173.5,879.52 L2173.7,881.26 L2173.9,881.80 L2174.0,882.25 L2174.2,883.01 L2174.4,884.06 L2174.5,885.15 L2174.7,886.57 L2174.9,888.00 L2175.1,889.63 L2175.3,891.35 L2175.5,892.88 L2175.6,894.05 L2175.8,895.23 L2176.0,897.58 L2176.2,899.98 L2176.4,900.98 L2176.6,900.98 L2176.8,901.36 L2177.0,903.11 L2177.2,904.86 L2177.4,906.06 L2177.6,907.14 L2177.8,908.74 L2178.0,910.92 L2178.3,913.05 L2178.5,914.62 L2178.7,916.19 L2178.9,916.97 L2179.1,917.45 L2179.4,918.18 L2179.6,919.38 L2179.8,920.58 L2180.0,922.55 L2180.3,924.52 L2180.5,926.25 L2180.7,927.85 L2180.9,929.53 L2181.1,931.44 L2181.3,933.35 L2181.6,933.49 L2181.8,933.55 L2182.0,934.53 L2182.2,936.05 L2182.4,937.57 L2182.6,939.09 L2182.8,940.62 L2183.1,942.08 L2183.3,943.53 L2183.5,944.97 L2183.7,946.41 L2183.9,948.09 L2184.1,950.20 L2184.3,952.32 L2184.5,953.54 L2184.7,954.74 L2184.9,955.71 L2185.1,956.53 L2185.2,957.49 L2185.4,958.82 L2185.6,960.14 L2185.8,961.66 L2186.0,963.19 L2186.2,964.55 L2186.4,965.78 L2186.6,967.19 L2186.8,969.46 L2187.0,971.74 L2187.2,972.73 L2187.3,973.44 L2187.5,974.65 L2187.8,976.43 L2188.0,978.21 L2188.2,980.03 L2188.4,981.85 L2188.6,982.91 L2188.8,983.79 L2189.0,984.77 L2189.2,985.84 L2189.4,987.13 L2189.6,989.51 L2189.8,991.88 L2190.0,993.47 L2190.3,994.92 L2190.5,995.88 L2190.7,996.39 L2191.0,997.11 L2191.3,998.80 L2191.5,1000.49 L2191.8,1002.43 L2192.1,1004.43 L2192.3,1005.81 L2192.6,1006.47 L2192.9,1007.16 L2193.1,1008.14 L2193.4,1009.12 L2193.7,1010.20 L2193.9,1011.32 L2194.2,1013.07 L2194.4,1015.90 L2194.6,1018.59 L2194.8,1019.79 L2195.0,1020.99 L2195.2,1021.85 L2195.4,1022.63 L2195.7,1023.85 L2195.9,1025.51 L2196.1,1027.10 L2196.3,1028.51 L2196.5,1029.93 L2196.7,1031.00 L2197.4,1032.02 L2198.1,1034.26 L2198.8,1036.92 L2199.0,1035.71 L2199.3,1033.88 L2199.5,1032.02 L2199.8,1030.06 L2200.1,1028.10 L2200.3,1026.36 L2200.6,1024.68 L2200.8,1023.33 L2201.1,1022.67 L2201.3,1022.02 L2201.6,1020.62 L2201.8,1019.13 L2202.1,1018.00 L2202.4,1017.28 L2202.7,1016.49 L2203.0,1015.01 L2203.3,1013.52 L2203.6,1012.01 L2203.9,1010.50 L2204.2,1008.81 L2204.5,1006.78 L2204.7,1007.47 L2205.0,1008.83 L2205.3,1010.21 L2205.5,1011.74 L2205.8,1013.37 L2206.1,1014.92 L2206.3,1016.20 L2206.6,1017.49 L2206.9,1019.70 L2207.3,1022.13 L2207.6,1023.58 L2208.0,1024.45 L2208.4,1025.65 L2208.8,1027.29 L2209.2,1029.01 L2209.6,1031.03 L2209.9,1033.06 L2210.9,1030.48 L2211.9,1027.88 L2212.9,1026.94 L2214.2,1026.44 L2215.6,1024.93 L2216.9,1023.30 L2217.8,1025.09 L2218.6,1027.18 L2219.4,1028.39 L2220.2,1028.39 L2221.0,1028.49 L2221.8,1031.18 L2222.6,1033.87 L2223.4,1035.40 L2224.2,1036.77 L2225.1,1038.08 L2225.5,1039.33 L2226.0,1040.18 L2226.4,1040.37 L2226.9,1040.57 L2227.3,1042.06 L2227.8,1043.62 L2228.2,1045.38 L2228.7,1047.32 L2229.1,1049.15 L2229.4,1046.81 L2229.7,1044.46 L2230.0,1043.25 L2230.2,1042.45 L2230.5,1041.40 L2230.8,1039.99 L2231.1,1038.64 L2231.4,1038.00 L2231.7,1037.35 L2231.9,1035.71 L2232.2,1033.75 L2233.5,1032.73 L2234.9,1032.28 L2235.2,1033.73 L2235.6,1034.28 L2235.9,1034.88 L2236.3,1037.07 L2236.6,1039.26 L2237.0,1040.40 L2237.4,1041.23 L2237.7,1042.76 L2239.5,1043.67 L2241.3,1043.44 L2241.7,1040.68" stroke="#ff0080" stroke-width="6.5"/>
<path d="M530.8,1069.87 L530.9,1070.73 L531.1,1071.81 L531.2,1073.08 L531.4,1074.51 L531.6,1076.06 L531.8,1077.70 L532.0,1079.40 L532.3,1081.11 L532.6,1082.80 L532.9,1084.45 L533.1,1085.71 L533.4,1087.02 L533.6,1088.37 L533.9,1089.75 L534.2,1091.15 L534.5,1092.57 L534.8,1093.98 L535.1,1095.39 L535.4,1096.78 L535.8,1098.15 L536.2,1099.49 L536.5,1100.78 L536.9,1102.02 L537.4,1103.46 L537.9,1104.89 L538.4,1106.30 L538.9,1107.69 L539.5,1109.05 L540.0,1110.37 L540.6,1111.63 L541.2,1112.83 L541.8,1113.96 L542.4,1115.00 L543.0,1115.95 L544.1,1117.52 L545.2,1118.90 L546.4,1120.06 L547.6,1120.96 L548.8,1121.57 L550.1,1121.85 L551.4,1121.77 L552.8,1121.35 L554.2,1120.65 L555.6,1119.70 L557.0,1118.54 L558.2,1117.24 L559.0,1116.27 L559.7,1115.21 L560.4,1114.04 L561.1,1112.79 L561.8,1111.46 L562.4,1110.05 L563.0,1108.58 L563.7,1107.04 L564.3,1105.45 L564.7,1104.31 L565.1,1103.12 L565.5,1101.88 L565.9,1100.61 L566.3,1099.30 L566.7,1097.96 L567.1,1096.60 L567.5,1095.22 L567.9,1093.82 L568.2,1092.42 L568.6,1091.01 L569.0,1089.60 L569.3,1088.20 L569.6,1086.90 L570.0,1085.60 L570.3,1084.30 L570.6,1082.99 L570.9,1081.67 L571.2,1080.35 L571.5,1079.01 L571.8,1077.66 L572.1,1076.29 L572.3,1074.90 L572.6,1073.49 L572.9,1072.06 L573.2,1070.61 L573.4,1069.12 L573.6,1067.82 L573.8,1066.53 L574.0,1065.24 L574.2,1063.96 L574.4,1062.66 L574.6,1061.36 L574.8,1060.03 L574.9,1058.68 L575.1,1057.30 L575.3,1055.89 L575.5,1054.43 L575.7,1052.92 L575.8,1051.36 L576.0,1049.74 L576.2,1048.06 L576.4,1046.30 L576.6,1045.13 L576.7,1043.91 L576.8,1042.65 L577.0,1041.36 L577.1,1040.03 L577.3,1038.68 L577.4,1037.29 L577.6,1035.89 L577.7,1034.46 L577.9,1033.01 L578.1,1031.56 L578.2,1030.09 L578.4,1028.62 L578.5,1027.14 L578.7,1025.66 L578.8,1024.19 L579.0,1022.73 L579.1,1021.27 L579.3,1019.83 L579.4,1018.41 L579.6,1017.01 L579.7,1015.64 L579.8,1014.29 L580.0,1012.97 L580.1,1011.69 L580.2,1010.13 L580.4,1008.61 L580.5,1007.12 L580.6,1005.67 L580.8,1004.24 L580.9,1002.84 L581.0,1001.45 L581.1,1000.08 L581.2,998.72 L581.4,997.36 L581.5,996.00 L581.6,994.64 L581.7,993.27 L581.8,991.89 L581.9,990.49 L582.0,989.06 L582.1,987.62 L582.3,986.14 L582.4,984.63 L582.5,983.07 L582.6,981.75 L582.7,980.41 L582.8,979.05 L582.9,977.67 L583.1,976.27 L583.2,974.86 L583.3,973.44 L583.4,972.00 L583.5,970.56 L583.6,969.11 L583.7,967.65 L583.9,966.18 L584.0,964.71 L584.1,963.24 L584.2,961.77 L584.3,960.30 L584.4,958.84 L584.5,957.38 L584.6,955.92 L584.7,954.47 L584.9,953.03 L585.0,951.60 L585.1,950.19 L585.2,948.78 L585.3,947.33 L585.4,945.87 L585.5,944.41 L585.5,942.95 L585.6,941.50 L585.7,940.04 L585.8,938.59 L585.9,937.14 L586.0,935.69 L586.1,934.25 L586.2,932.81 L586.3,931.38 L586.4,929.95 L586.4,928.53 L586.5,927.11 L586.6,925.70 L586.7,924.30 L586.8,922.91 L586.9,921.53 L586.9,920.15 L587.0,918.79 L587.1,917.44 L587.2,916.10 L587.3,914.57 L587.4,913.07 L587.5,911.58 L587.6,910.10 L587.7,908.64 L587.8,907.19 L587.9,905.75 L587.9,904.32 L588.0,902.90 L588.1,901.48 L588.2,900.08 L588.3,898.67 L588.4,897.27 L588.5,895.86 L588.6,894.46 L588.7,893.05 L588.8,891.64 L588.8,890.23 L588.9,888.81 L589.0,887.38 L589.1,885.95 L589.1,884.51 L589.2,883.08 L589.3,881.65 L589.3,880.22 L589.4,878.79 L589.5,877.36 L589.5,875.93 L589.6,874.50 L589.6,873.07 L589.7,871.64 L589.7,870.22 L589.8,868.79 L589.8,867.36 L589.9,865.93 L590.0,864.50 L590.0,863.06 L590.1,861.63 L590.1,860.20 L590.2,858.77 L590.3,857.34 L590.3,855.93 L590.4,854.53 L590.5,853.14 L590.6,851.76 L590.6,850.38 L590.7,849.00 L590.8,847.62 L590.8,846.23 L590.9,844.84 L591.0,843.45 L591.1,842.04 L591.1,840.61 L591.2,839.17 L591.3,837.71 L591.3,836.23 L591.4,834.73 L591.5,833.20 L591.5,831.64 L591.6,830.05 L591.7,828.76 L591.7,827.47 L591.7,826.16 L591.8,824.86 L591.8,823.54 L591.9,822.22 L591.9,820.88 L591.9,819.54 L592.0,818.18 L592.0,816.82 L592.0,815.44 L592.1,814.05 L592.1,812.64 L592.1,811.22 L592.2,809.79 L592.2,808.34 L592.2,806.87 L592.3,805.39 L592.3,803.89 L592.4,802.37 L592.4,800.83 L592.5,799.27 L592.5,797.69 L592.6,796.09 L592.6,794.47 L592.7,793.22 L592.7,791.94 L592.8,790.62 L592.8,789.29 L592.9,787.93 L593.0,786.54 L593.0,785.14 L593.1,783.72 L593.1,782.29 L593.2,780.84 L593.3,779.37 L593.3,777.90 L593.4,776.42 L593.5,774.94 L593.5,773.45 L593.6,771.96 L593.7,770.47 L593.7,768.99 L593.8,767.51 L593.9,766.03 L593.9,764.56 L594.0,763.11 L594.1,761.67 L594.1,760.24 L594.2,758.83 L594.3,757.44 L594.3,756.06 L594.4,754.72 L594.4,753.39 L594.5,752.10 L594.6,750.83 L594.6,749.60 L594.7,748.39 L594.7,746.72 L594.8,745.10 L594.9,743.53 L594.9,742.00 L595.0,740.52 L595.1,739.07 L595.1,737.65 L595.2,736.26 L595.3,734.90 L595.3,733.56 L595.4,732.24 L595.4,730.93 L595.5,729.63 L595.5,728.33 L595.6,727.04 L595.7,725.74 L595.7,724.43 L595.8,723.12 L595.8,721.79 L595.9,720.44 L596.0,719.07 L596.0,717.67 L596.1,716.24 L596.2,714.86 L596.2,713.48 L596.3,712.09 L596.4,710.70 L596.4,709.31 L596.5,707.92 L596.6,706.53 L596.6,705.13 L596.7,703.73 L596.8,702.33 L596.8,700.92 L596.9,699.50 L597.0,698.08 L597.0,696.65 L597.1,695.22 L597.2,693.78 L597.3,692.33 L597.3,690.88 L597.4,689.41 L597.5,687.94 L597.5,686.46 L597.6,684.97 L597.7,683.47 L597.7,681.95 L597.8,680.60 L597.8,679.23 L597.9,677.86 L597.9,676.47 L598.0,675.07 L598.0,673.67 L598.1,672.26 L598.2,670.84 L598.2,669.41 L598.3,667.98 L598.3,666.54 L598.4,665.10 L598.4,663.66 L598.5,662.21 L598.5,660.76 L598.6,659.30 L598.6,657.85 L598.7,656.39 L598.7,654.94 L598.8,653.48 L598.8,652.03 L598.9,650.58 L598.9,649.13 L599.0,647.69 L599.0,646.24 L599.1,644.81 L599.1,643.38 L599.2,641.95 L599.2,640.52 L599.3,639.09 L599.3,637.66 L599.4,636.22 L599.4,634.79 L599.4,633.36 L599.5,631.93 L599.5,630.50 L599.6,629.06 L599.6,627.63 L599.7,626.20 L599.7,624.77 L599.7,623.34 L599.8,621.91 L599.8,620.48 L599.9,619.05 L599.9,617.62 L600.0,616.19 L600.0,614.76 L600.1,613.33 L600.1,611.91 L600.1,610.48 L600.2,609.06 L600.2,607.64 L600.3,606.22 L600.3,604.80 L600.4,603.38 L600.4,601.96 L600.5,600.55 L600.5,599.13 L600.6,597.72 L600.6,596.31 L600.7,594.90 L600.7,593.49 L600.8,592.08 L600.8,590.67 L600.9,589.26 L600.9,587.85 L601.0,586.45 L601.0,585.04 L601.1,583.63 L601.1,582.23 L601.2,580.82 L601.2,579.42 L601.3,578.01 L601.3,576.61 L601.4,575.20 L601.5,573.79 L601.5,572.39 L601.6,570.98 L601.6,569.57 L601.7,568.16 L601.8,566.76 L601.8,565.34 L601.9,563.91 L602.0,562.48 L602.0,561.03 L602.1,559.58 L602.2,558.12 L602.3,556.66 L602.4,555.20 L602.4,553.73 L602.5,552.26 L602.6,550.80 L602.7,549.34 L602.8,547.88 L602.8,546.43 L602.9,544.98 L603.0,543.55 L603.1,542.12 L603.2,540.70 L603.2,539.30 L603.3,537.91 L603.4,536.54 L603.5,535.19 L603.5,533.85 L603.6,532.53 L603.7,531.24 L603.7,529.96 L603.8,528.71 L603.9,527.06 L603.9,525.43 L604.0,523.82 L604.1,522.24 L604.1,520.68 L604.2,519.15 L604.2,517.64 L604.3,516.15 L604.3,514.69 L604.4,513.25 L604.4,511.83 L604.5,510.43 L604.5,509.06 L604.6,507.70 L604.6,506.37 L604.6,505.05 L604.7,503.76 L604.7,502.49 L604.8,501.23 L604.8,499.99 L604.9,498.26 L605.0,496.56 L605.0,494.91 L605.1,493.29 L605.1,491.71 L605.2,490.18 L605.2,488.69 L605.3,487.25 L605.4,485.85 L605.4,484.51 L605.5,483.21 L605.5,481.96 L605.6,480.77 L605.6,479.63 L605.7,477.83 L605.8,476.28 L605.9,474.91 L606.0,473.68 L606.1,472.52 L606.1,471.38 L606.2,470.20 L606.3,468.92 L606.4,467.57 L606.5,466.22 L606.6,464.86 L606.7,463.51 L606.8,462.15 L606.9,460.80 L607.0,459.44 L607.1,458.10 L607.2,456.73 L607.4,455.32 L607.5,453.91 L607.6,452.50 L607.7,451.13 L607.8,449.80 L608.0,448.54 L608.1,447.38 L608.4,445.65 L608.7,444.06 L608.9,442.61 L609.2,441.35 L609.5,440.31 L610.3,438.60 L611.0,438.06 L611.8,438.60 L612.5,440.31 L612.8,441.35 L613.0,442.61 L613.3,444.06 L613.5,445.65 L613.7,447.38 L613.9,448.54 L614.0,449.80 L614.1,451.13 L614.2,452.50 L614.3,453.91 L614.4,455.32 L614.5,456.73 L614.5,458.10 L614.6,459.44 L614.7,460.80 L614.8,462.15 L614.9,463.51 L615.0,464.86 L615.1,466.22 L615.2,467.57 L615.3,468.92 L615.3,470.20 L615.4,471.38 L615.5,472.52 L615.6,473.68 L615.6,474.91 L615.7,476.28 L615.9,477.83 L616.0,479.63 L616.1,480.77 L616.2,481.96 L616.3,483.21 L616.5,484.51 L616.6,485.85 L616.8,487.25 L616.9,488.69 L617.1,490.18 L617.2,491.71 L617.4,493.29 L617.5,494.91 L617.7,496.56 L617.8,498.26 L618.0,499.99 L618.1,501.23 L618.2,502.49 L618.3,503.76 L618.5,505.05 L618.6,506.37 L618.7,507.70 L618.8,509.06 L618.9,510.43 L619.1,511.83 L619.2,513.25 L619.3,514.69 L619.4,516.15 L619.6,517.64 L619.7,519.15 L619.8,520.68 L619.9,522.24 L620.1,523.82 L620.2,525.43 L620.3,527.06 L620.4,528.71 L620.5,529.96 L620.6,531.24 L620.7,532.53 L620.7,533.85 L620.8,535.19 L620.9,536.54 L621.0,537.91 L621.1,539.30 L621.2,540.70 L621.2,542.12 L621.3,543.55 L621.4,544.98 L621.5,546.43 L621.6,547.88 L621.6,549.34 L621.7,550.80 L621.8,552.26 L621.9,553.73 L622.0,555.20 L622.1,556.66 L622.1,558.12 L622.2,559.58 L622.3,561.03 L622.4,562.48 L622.5,563.91 L622.6,565.34 L622.7,566.76 L622.7,568.16 L622.8,569.57 L622.9,570.98 L623.0,572.39 L623.1,573.79 L623.2,575.20 L623.3,576.61 L623.4,578.01 L623.4,579.42 L623.5,580.82 L623.6,582.23 L623.7,583.63 L623.8,585.04 L623.9,586.45 L624.0,587.85 L624.1,589.26 L624.2,590.67 L624.3,592.08 L624.4,593.49 L624.4,594.90 L624.5,596.31 L624.6,597.72 L624.7,599.13 L624.8,600.55 L624.9,601.96 L625.0,603.38 L625.1,604.80 L625.2,606.22 L625.3,607.64 L625.3,609.06 L625.4,610.48 L625.5,611.91 L625.6,613.33 L625.7,614.76 L625.8,616.19 L625.9,617.62 L625.9,619.05 L626.0,620.48 L626.1,621.91 L626.2,623.34 L626.3,624.77 L626.4,626.20 L626.5,627.63 L626.6,629.06 L626.6,630.50 L626.7,631.93 L626.8,633.36 L626.9,634.79 L627.0,636.22 L627.1,637.66 L627.2,639.09 L627.3,640.52 L627.4,641.95 L627.5,643.38 L627.6,644.81 L627.7,646.24 L627.8,647.69 L627.9,649.13 L628.1,650.58 L628.2,652.03 L628.3,653.48 L628.4,654.94 L628.5,656.39 L628.6,657.85 L628.8,659.30 L628.9,660.76 L629.0,662.21 L629.1,663.66 L629.3,665.10 L629.4,666.54 L629.5,667.98 L629.6,669.41 L629.8,670.84 L629.9,672.26 L630.0,673.67 L630.1,675.07 L630.3,676.47 L630.4,677.86 L630.5,679.23 L630.6,680.60 L630.8,681.95 L630.9,683.47 L631.0,684.98 L631.2,686.49 L631.3,687.98 L631.4,689.48 L631.6,690.97 L631.7,692.45 L631.9,693.92 L632.0,695.39 L632.1,696.84 L632.3,698.29 L632.4,699.74 L632.6,701.17 L632.7,702.59 L632.8,704.01 L633.0,705.41 L633.1,706.80 L633.3,708.19 L633.4,709.56 L633.6,710.92 L633.7,712.27 L633.9,713.61 L634.0,714.93 L634.2,716.24 L634.4,717.81 L634.6,719.37 L634.8,720.92 L635.0,722.47 L635.2,724.00 L635.4,725.52 L635.6,727.03 L635.8,728.53 L636.0,730.00 L636.2,731.46 L636.4,732.90 L636.6,734.31 L636.8,735.71 L637.0,737.07 L637.3,738.41 L637.5,739.72 L637.7,741.00 L637.9,742.25 L638.0,743.46 L638.2,744.64 L638.5,746.40 L638.8,748.11 L639.1,749.77 L639.4,751.36 L639.6,752.90 L639.9,754.37 L640.2,755.78 L640.4,757.11 L640.7,758.38 L640.9,759.57 L641.2,760.68 L641.4,761.70 L641.6,762.65 L642.2,764.90 L642.7,766.18 L643.1,767.04 L643.6,768.00 L644.3,769.60 L644.9,771.08 L645.6,772.29 L646.6,773.64 L647.6,774.22 L648.8,773.64 L650.1,772.29 L651.0,771.08 L651.9,769.60 L652.7,768.00 L653.2,766.86 L653.7,765.73 L654.2,764.39 L654.7,762.65 L655.0,761.55 L655.4,760.31 L655.8,758.95 L656.1,757.53 L656.5,756.07 L656.9,754.63 L657.2,753.23 L657.6,751.93 L657.9,750.69 L658.1,749.70 L658.3,748.80 L658.6,747.81 L658.8,746.58 L659.1,744.94 L659.5,742.71 L659.7,741.73 L659.9,740.67 L660.0,739.55 L660.2,738.36 L660.5,737.11 L660.7,735.81 L660.9,734.46 L661.1,733.06 L661.3,731.63 L661.6,730.15 L661.8,728.64 L662.0,727.11 L662.3,725.55 L662.5,723.97 L662.7,722.37 L662.9,720.76 L663.2,719.15 L663.4,717.54 L663.6,715.92 L663.7,714.64 L663.9,713.33 L664.0,712.01 L664.2,710.67 L664.3,709.32 L664.5,707.95 L664.6,706.56 L664.8,705.16 L664.9,703.75 L665.1,702.32 L665.2,700.88 L665.4,699.43 L665.5,697.98 L665.7,696.51 L665.8,695.03 L665.9,693.55 L666.1,692.06 L666.2,690.57 L666.3,689.07 L666.5,687.56 L666.6,686.06 L666.8,684.55 L666.9,683.04 L667.0,681.52 L667.2,680.18 L667.3,678.82 L667.4,677.45 L667.5,676.08 L667.6,674.70 L667.7,673.31 L667.9,671.91 L668.0,670.51 L668.1,669.10 L668.2,667.69 L668.3,666.27 L668.4,664.85 L668.5,663.43 L668.6,662.00 L668.8,660.57 L668.9,659.13 L669.0,657.70 L669.1,656.26 L669.2,654.83 L669.3,653.39 L669.4,651.95 L669.5,650.52 L669.6,649.09 L669.7,647.65 L669.8,646.22 L669.9,644.80 L670.1,643.38 L670.2,641.95 L670.3,640.53 L670.4,639.11 L670.5,637.68 L670.6,636.25 L670.7,634.82 L670.8,633.39 L670.9,631.96 L671.0,630.53 L671.1,629.10 L671.2,627.66 L671.3,626.23 L671.4,624.80 L671.5,623.36 L671.6,621.93 L671.7,620.50 L671.8,619.07 L671.9,617.63 L671.9,616.20 L672.0,614.77 L672.1,613.34 L672.2,611.91 L672.3,610.49 L672.4,609.06 L672.5,607.64 L672.6,606.22 L672.7,604.80 L672.8,603.38 L672.9,601.96 L673.0,600.55 L673.1,599.13 L673.1,597.72 L673.2,596.31 L673.3,594.90 L673.4,593.49 L673.5,592.08 L673.6,590.67 L673.6,589.26 L673.7,587.85 L673.8,586.45 L673.9,585.04 L674.0,583.63 L674.1,582.23 L674.1,580.82 L674.2,579.42 L674.3,578.01 L674.4,576.61 L674.5,575.20 L674.6,573.79 L674.7,572.39 L674.8,570.98 L674.9,569.57 L675.0,568.16 L675.1,566.76 L675.3,565.34 L675.4,563.93 L675.5,562.51 L675.6,561.08 L675.8,559.66 L675.9,558.23 L676.1,556.80 L676.2,555.37 L676.4,553.94 L676.5,552.50 L676.7,551.07 L676.8,549.64 L677.0,548.21 L677.1,546.79 L677.3,545.36 L677.4,543.94 L677.6,542.53 L677.8,541.12 L677.9,539.71 L678.0,538.31 L678.2,536.92 L678.3,535.53 L678.5,534.15 L678.6,532.78 L678.7,531.41 L678.8,530.06 L678.9,528.71 L679.1,527.22 L679.2,525.74 L679.3,524.28 L679.4,522.83 L679.5,521.40 L679.6,519.98 L679.7,518.57 L679.8,517.16 L679.8,515.77 L679.9,514.38 L680.0,512.99 L680.1,511.60 L680.1,510.21 L680.2,508.82 L680.3,507.43 L680.4,506.03 L680.4,504.62 L680.5,503.21 L680.6,501.78 L680.7,500.34 L680.7,498.89 L680.8,497.42 L680.9,495.93 L681.0,494.42 L681.0,493.06 L681.1,491.68 L681.2,490.27 L681.2,488.84 L681.3,487.40 L681.4,485.94 L681.5,484.48 L681.5,483.00 L681.6,481.51 L681.7,480.01 L681.7,478.52 L681.8,477.02 L681.9,475.52 L681.9,474.03 L682.0,472.53 L682.1,471.05 L682.1,469.58 L682.2,468.12 L682.3,466.67 L682.3,465.24 L682.4,463.82 L682.5,462.43 L682.5,461.06 L682.6,459.71 L682.7,458.39 L682.7,457.10 L682.8,455.84 L682.9,454.19 L683.0,452.59 L683.1,451.02 L683.1,449.50 L683.2,448.01 L683.3,446.55 L683.4,445.11 L683.5,443.71 L683.6,442.32 L683.6,440.95 L683.7,439.59 L683.8,438.24 L683.9,436.90 L684.0,435.56 L684.0,434.22 L684.1,432.87 L684.2,431.51 L684.3,430.14 L684.3,428.75 L684.4,427.34 L684.5,425.92 L684.6,424.51 L684.6,423.09 L684.7,421.68 L684.8,420.27 L684.9,418.86 L684.9,417.45 L685.0,416.04 L685.1,414.63 L685.1,413.22 L685.2,411.81 L685.3,410.40 L685.3,408.99 L685.4,407.58 L685.5,406.16 L685.5,404.75 L685.6,403.33 L685.7,401.90 L685.8,400.48 L685.8,399.05 L685.9,397.62 L686.0,396.19 L686.1,394.76 L686.1,393.33 L686.2,391.90 L686.3,390.46 L686.4,389.03 L686.4,387.59 L686.5,386.16 L686.6,384.72 L686.7,383.27 L686.8,381.83 L686.8,380.38 L686.9,378.93 L687.0,377.47 L687.1,376.01 L687.2,374.54 L687.3,373.07 L687.4,371.60 L687.4,370.12 L687.5,368.74 L687.6,367.33 L687.7,365.88 L687.8,364.39 L687.9,362.89 L688.0,361.36 L688.1,359.83 L688.2,358.29 L688.3,356.75 L688.4,355.21 L688.5,353.69 L688.6,352.20 L688.7,350.72 L688.8,349.28 L688.9,347.88 L689.0,346.52 L689.0,345.22 L689.1,343.97 L689.2,342.79 L689.3,341.67 L689.3,340.64 L689.4,339.68 L689.6,337.22 L689.7,335.45 L689.8,334.16 L689.9,333.16 L690.0,332.27 L690.0,331.30 L690.2,330.04 L690.3,328.74 L690.4,327.41 L690.5,326.06 L690.6,324.69 L690.8,323.32 L690.9,321.94 L691.0,320.57 L691.2,319.22 L691.3,317.87 L691.4,316.53 L691.6,315.19 L691.7,313.85 L691.9,312.51 L692.0,311.18 L692.1,309.84 L692.3,308.50 L692.4,307.16 L692.6,305.82 L692.7,304.49 L692.8,303.15 L693.0,301.81 L693.1,300.47 L693.3,299.13 L693.4,297.78 L693.5,296.43 L693.7,295.08 L693.8,293.73 L693.9,292.37 L694.1,291.02 L694.2,289.66 L694.4,288.31 L694.6,286.96 L694.7,285.57 L694.9,284.13 L695.1,282.67 L695.3,281.22 L695.5,279.82 L695.7,278.50 L695.9,277.30 L696.1,276.24 L696.6,274.10 L697.1,272.63 L697.6,271.53 L699.0,270.14 L700.2,271.74 L700.6,272.80 L700.9,274.18 L701.3,276.24 L701.5,277.29 L701.6,278.48 L701.8,279.80 L701.9,281.21 L702.0,282.66 L702.2,284.13 L702.3,285.57 L702.5,286.96 L702.6,288.31 L702.8,289.66 L703.0,291.02 L703.1,292.37 L703.3,293.73 L703.4,295.08 L703.6,296.43 L703.7,297.78 L703.9,299.13 L704.0,300.47 L704.2,301.81 L704.3,303.15 L704.5,304.49 L704.6,305.82 L704.8,307.16 L704.9,308.50 L705.1,309.84 L705.2,311.18 L705.3,312.51 L705.5,313.85 L705.6,315.19 L705.7,316.53 L705.9,317.87 L706.0,319.22 L706.1,320.57 L706.2,321.94 L706.4,323.32 L706.5,324.69 L706.6,326.06 L706.7,327.41 L706.8,328.74 L706.9,330.04 L707.1,331.48 L707.2,332.90 L707.3,334.29 L707.4,335.66 L707.6,337.01 L707.7,338.35 L707.8,339.68 L707.9,341.05 L708.1,342.19 L708.2,343.31 L708.3,344.63 L708.5,346.35 L708.6,348.68 L708.7,349.69 L708.7,350.77 L708.8,351.93 L708.8,353.16 L708.9,354.45 L709.0,355.80 L709.0,357.19 L709.1,358.63 L709.2,360.10 L709.2,361.60 L709.3,363.11 L709.4,364.65 L709.5,366.18 L709.5,367.72 L709.6,369.25 L709.7,370.77 L709.8,372.26 L709.8,373.59 L709.9,374.94 L710.0,376.29 L710.0,377.66 L710.1,379.04 L710.2,380.43 L710.3,381.83 L710.3,383.24 L710.4,384.65 L710.5,386.07 L710.6,387.50 L710.7,388.93 L710.7,390.37 L710.8,391.81 L710.9,393.26 L711.0,394.70 L711.0,396.15 L711.1,397.60 L711.2,399.05 L711.3,400.43 L711.3,401.82 L711.4,403.21 L711.5,404.61 L711.5,406.01 L711.6,407.42 L711.7,408.83 L711.7,410.25 L711.8,411.67 L711.9,413.09 L712.0,414.51 L712.0,415.94 L712.1,417.36 L712.2,418.79 L712.2,420.22 L712.3,421.64 L712.4,423.07 L712.4,424.50 L712.5,425.92 L712.6,427.34 L712.7,428.75 L712.7,430.16 L712.8,431.55 L712.9,432.93 L713.0,434.32 L713.1,435.69 L713.1,437.07 L713.2,438.45 L713.3,439.83 L713.4,441.22 L713.5,442.61 L713.5,444.02 L713.6,445.43 L713.7,446.86 L713.8,448.31 L713.9,449.77 L714.0,451.25 L714.0,452.76 L714.1,454.29 L714.2,455.84 L714.3,457.16 L714.4,458.49 L714.4,459.83 L714.5,461.18 L714.6,462.54 L714.6,463.91 L714.7,465.29 L714.8,466.69 L714.9,468.09 L714.9,469.51 L715.0,470.93 L715.1,472.36 L715.1,473.80 L715.2,475.25 L715.3,476.71 L715.4,478.17 L715.5,479.65 L715.5,481.13 L715.6,482.61 L715.7,484.11 L715.8,485.61 L715.9,487.11 L716.0,488.62 L716.1,490.14 L716.1,491.49 L716.2,492.86 L716.3,494.24 L716.4,495.63 L716.5,497.02 L716.6,498.43 L716.7,499.85 L716.8,501.27 L716.9,502.70 L717.0,504.13 L717.1,505.57 L717.2,507.02 L717.3,508.47 L717.4,509.92 L717.5,511.37 L717.6,512.82 L717.7,514.28 L717.8,515.74 L717.9,517.19 L718.0,518.64 L718.1,520.09 L718.2,521.54 L718.3,522.99 L718.4,524.43 L718.5,525.86 L718.6,527.29 L718.7,528.71 L718.8,530.13 L718.9,531.55 L719.0,532.96 L719.2,534.38 L719.3,535.79 L719.4,537.20 L719.5,538.61 L719.6,540.02 L719.7,541.43 L719.9,542.84 L720.0,544.25 L720.1,545.66 L720.2,547.07 L720.4,548.47 L720.5,549.88 L720.6,551.28 L720.7,552.69 L720.8,554.10 L720.9,555.50 L721.1,556.91 L721.2,558.31 L721.3,559.72 L721.4,561.13 L721.5,562.53 L721.6,563.94 L721.7,565.35 L721.8,566.76 L721.8,568.16 L721.9,569.57 L722.0,570.98 L722.1,572.39 L722.1,573.79 L722.2,575.20 L722.3,576.61 L722.3,578.01 L722.4,579.42 L722.4,580.82 L722.5,582.23 L722.5,583.63 L722.6,585.04 L722.6,586.45 L722.7,587.85 L722.7,589.26 L722.8,590.67 L722.8,592.08 L722.9,593.49 L722.9,594.90 L723.0,596.31 L723.1,597.72 L723.1,599.13 L723.2,600.55 L723.2,601.96 L723.3,603.38 L723.4,604.80 L723.5,606.22 L723.5,607.64 L723.6,609.06 L723.7,610.49 L723.8,611.91 L723.9,613.34 L724.0,614.77 L724.1,616.20 L724.1,617.63 L724.2,619.07 L724.3,620.50 L724.4,621.93 L724.5,623.36 L724.6,624.80 L724.7,626.23 L724.8,627.66 L724.9,629.10 L725.0,630.53 L725.1,631.96 L725.2,633.39 L725.3,634.82 L725.4,636.25 L725.5,637.68 L725.6,639.11 L725.6,640.53 L725.7,641.95 L725.8,643.38 L725.9,644.80 L726.0,646.21 L726.1,647.63 L726.1,649.05 L726.2,650.47 L726.3,651.88 L726.4,653.29 L726.4,654.71 L726.5,656.12 L726.6,657.53 L726.6,658.94 L726.7,660.35 L726.8,661.76 L726.8,663.18 L726.9,664.59 L727.0,666.00 L727.1,667.41 L727.1,668.82 L727.2,670.23 L727.3,671.64 L727.4,673.05 L727.4,674.46 L727.5,675.87 L727.6,677.28 L727.7,678.70 L727.8,680.11 L727.8,681.52 L727.9,682.94 L728.0,684.36 L728.1,685.77 L728.2,687.19 L728.3,688.60 L728.4,690.02 L728.5,691.44 L728.6,692.85 L728.7,694.27 L728.7,695.69 L728.8,697.10 L728.9,698.52 L729.0,699.94 L729.1,701.35 L729.2,702.77 L729.3,704.19 L729.4,705.61 L729.5,707.02 L729.6,708.44 L729.7,709.86 L729.8,711.28 L729.9,712.69 L730.0,714.11 L730.1,715.53 L730.2,716.95 L730.4,718.36 L730.5,719.78 L730.6,721.20 L730.7,722.62 L730.8,724.04 L730.9,725.47 L731.0,726.89 L731.1,728.32 L731.2,729.74 L731.3,731.17 L731.4,732.60 L731.6,734.03 L731.7,735.46 L731.8,736.88 L731.9,738.31 L732.0,739.74 L732.1,741.16 L732.2,742.58 L732.4,744.00 L732.5,745.42 L732.6,746.84 L732.7,748.25 L732.8,749.66 L732.9,751.06 L733.1,752.47 L733.2,753.87 L733.3,755.26 L733.4,756.65 L733.5,758.04 L733.6,759.47 L733.7,760.90 L733.9,762.33 L734.0,763.75 L734.1,765.17 L734.2,766.59 L734.3,768.00 L734.4,769.41 L734.5,770.82 L734.6,772.22 L734.7,773.62 L734.8,775.02 L735.0,776.42 L735.1,777.82 L735.2,779.21 L735.3,780.60 L735.4,781.99 L735.5,783.38 L735.6,784.77 L735.8,786.16 L735.9,787.55 L736.0,788.93 L736.1,790.32 L736.3,791.70 L736.4,793.09 L736.5,794.47 L736.7,795.92 L736.8,797.38 L737.0,798.86 L737.1,800.34 L737.3,801.84 L737.5,803.34 L737.6,804.84 L737.8,806.35 L738.0,807.85 L738.1,809.35 L738.3,810.85 L738.5,812.34 L738.6,813.82 L738.8,815.28 L739.0,816.74 L739.2,818.18 L739.3,819.60 L739.5,821.00 L739.7,822.38 L739.8,823.73 L740.0,825.06 L740.1,826.35 L740.3,827.62 L740.4,828.85 L740.6,830.05 L740.8,831.75 L741.0,833.38 L741.2,834.94 L741.4,836.45 L741.6,837.91 L741.7,839.32 L741.9,840.69 L742.1,842.02 L742.3,843.33 L742.4,844.61 L742.6,845.88 L742.8,847.13 L742.9,848.38 L743.1,849.62 L743.3,850.87 L743.5,852.13 L743.6,853.41 L743.8,854.84 L744.0,856.22 L744.2,857.55 L744.4,858.86 L744.6,860.14 L744.8,861.41 L744.9,862.67 L745.1,863.95 L745.3,865.23 L745.5,866.54 L745.7,867.88 L745.9,869.27 L746.2,870.70 L746.4,872.20 L746.7,873.77 L746.9,875.00 L747.1,876.28 L747.3,877.59 L747.5,878.95 L747.8,880.33 L748.0,881.75 L748.3,883.18 L748.5,884.63 L748.8,886.10 L749.1,887.57 L749.3,889.04 L749.6,890.51 L749.9,891.98 L750.2,893.43 L750.4,894.87 L750.7,896.28 L751.0,897.67 L751.2,899.03 L751.5,900.35 L751.7,901.63 L752.1,903.20 L752.4,904.74 L752.7,906.26 L753.0,907.76 L753.3,909.24 L753.6,910.70 L754.0,912.14 L754.3,913.55 L754.6,914.95 L754.9,916.32 L755.2,917.68 L755.5,919.01 L755.8,920.32 L756.2,921.62 L756.5,922.89 L756.8,924.14 L757.2,925.64 L757.6,927.09 L757.9,928.50 L758.3,929.88 L758.7,931.22 L759.1,932.53 L759.5,933.82 L759.8,935.09 L760.2,936.34 L760.6,937.58 L761.0,938.82 L761.4,940.05 L761.9,941.28 L762.4,942.74 L762.9,944.20 L763.5,945.64 L764.0,947.07 L764.6,948.49 L765.1,949.88 L765.7,951.23 L766.3,952.56 L766.8,953.85 L767.4,955.09 L767.9,956.28 L768.6,957.69 L769.3,959.05 L770.0,960.37 L770.7,961.63 L771.3,962.83 L772.0,963.98 L772.7,965.05 L773.4,966.06 L774.0,967.00 L775.0,968.25 L776.1,969.33 L777.1,970.25 L778.1,971.07 L779.1,971.79 L780.1,972.47 L781.6,973.38 L783.1,974.13 L784.7,974.64 L786.2,974.82 L787.7,974.69 L789.1,974.27 L790.6,973.53 L792.3,972.47 L793.2,971.79 L794.2,971.00 L795.2,970.12 L796.3,969.17 L797.3,968.15 L798.4,967.09 L799.4,965.98 L800.4,964.86 L801.2,963.84 L802.0,962.81 L802.8,961.75 L803.6,960.65 L804.4,959.50 L805.1,958.31 L805.9,957.06 L806.7,955.74 L807.5,954.35 L808.1,953.26 L808.7,952.11 L809.3,950.93 L809.9,949.70 L810.5,948.45 L811.1,947.16 L811.7,945.85 L812.3,944.53 L812.9,943.19 L813.4,941.84 L814.0,940.49 L814.6,939.14 L815.1,937.89 L815.6,936.64 L816.1,935.38 L816.6,934.11 L817.0,932.83 L817.5,931.54 L818.0,930.23 L818.4,928.91 L818.9,927.57 L819.3,926.21 L819.8,924.83 L820.2,923.42 L820.7,921.99 L821.0,920.73 L821.4,919.44 L821.7,918.12 L822.1,916.78 L822.4,915.43 L822.8,914.06 L823.1,912.68 L823.4,911.29 L823.8,909.90 L824.1,908.51 L824.4,907.11 L824.7,905.73 L825.1,904.35 L825.4,902.98 L825.7,901.63 L826.1,900.19 L826.5,898.74 L826.8,897.28 L827.2,895.83 L827.6,894.37 L828.0,892.92 L828.3,891.47 L828.7,890.03 L829.1,888.60 L829.4,887.19 L829.8,885.79 L830.1,884.40 L830.5,883.04 L830.8,881.70 L831.2,880.17 L831.5,878.67 L831.9,877.20 L832.2,875.75 L832.6,874.32 L832.9,872.91 L833.2,871.50 L833.5,870.10 L833.9,868.70 L834.2,867.29 L834.5,865.88 L834.8,864.45 L835.2,863.01 L835.5,861.57 L835.8,860.13 L836.1,858.69 L836.4,857.25 L836.7,855.81 L837.0,854.38 L837.3,852.94 L837.6,851.50 L837.9,850.06 L838.2,848.63 L838.5,847.19 L838.8,845.82 L839.0,844.54 L839.3,843.33 L839.6,842.15 L839.8,840.98 L840.1,839.77 L840.4,838.49 L840.6,837.13 L840.9,835.63 L841.2,833.97 L841.6,832.12 L841.9,830.05 L842.1,828.96 L842.3,827.81 L842.5,826.61 L842.7,825.35 L842.9,824.04 L843.1,822.68 L843.3,821.29 L843.6,819.86 L843.8,818.40 L844.0,816.91 L844.2,815.41 L844.5,813.88 L844.7,812.34 L844.9,810.79 L845.2,809.24 L845.4,807.69 L845.6,806.14 L845.9,804.60 L846.1,803.08 L846.3,801.57 L846.5,800.09 L846.8,798.63 L847.0,797.21 L847.2,795.82 L847.4,794.47 L847.6,792.98 L847.8,791.51 L848.1,790.06 L848.3,788.64 L848.5,787.23 L848.7,785.83 L848.9,784.46 L849.2,783.09 L849.4,781.73 L849.6,780.37 L849.8,779.02 L850.0,777.67 L850.2,776.32 L850.4,774.97 L850.6,773.61 L850.8,772.24 L851.0,770.86 L851.2,769.47 L851.4,768.06 L851.6,766.63 L851.9,765.19 L852.1,763.72 L852.3,762.40 L852.4,761.07 L852.6,759.72 L852.8,758.36 L853.0,756.98 L853.2,755.59 L853.4,754.19 L853.6,752.78 L853.7,751.37 L853.9,749.95 L854.1,748.52 L854.3,747.10 L854.5,745.68 L854.7,744.26 L854.9,742.84 L855.1,741.43 L855.2,740.03 L855.4,738.64 L855.6,737.26 L855.8,735.89 L856.0,734.54 L856.2,733.21 L856.3,731.89 L856.5,730.59 L856.7,729.32 L856.9,727.83 L857.2,726.36 L857.4,724.92 L857.6,723.49 L857.8,722.09 L858.0,720.70 L858.3,719.32 L858.5,717.96 L858.7,716.61 L858.9,715.27 L859.2,713.93 L859.4,712.60 L859.6,711.28 L859.8,709.95 L860.0,708.63 L860.2,707.31 L860.4,705.98 L860.6,704.65 L860.8,703.31 L861.0,701.96 L861.2,700.60 L861.4,699.17 L861.6,697.73 L861.7,696.30 L861.9,694.87 L862.0,693.44 L862.2,692.01 L862.3,690.58 L862.5,689.15 L862.6,687.72 L862.8,686.29 L862.9,684.86 L863.1,683.43 L863.2,682.00 L863.3,680.57 L863.5,679.14 L863.6,677.71 L863.8,676.28 L863.9,674.85 L864.1,673.42 L864.2,671.99 L864.4,670.56 L864.6,669.13 L864.7,667.70 L864.9,666.27 L865.1,664.84 L865.2,663.41 L865.4,661.99 L865.6,660.56 L865.7,659.13 L865.9,657.70 L866.1,656.27 L866.3,654.84 L866.4,653.41 L866.6,651.98 L866.8,650.55 L867.0,649.12 L867.1,647.68 L867.3,646.25 L867.5,644.81 L867.7,643.38 L867.9,642.00 L868.0,640.61 L868.2,639.20 L868.4,637.79 L868.6,636.37 L868.7,634.94 L868.9,633.52 L869.1,632.09 L869.3,630.66 L869.4,629.24 L869.6,627.82 L869.8,626.41 L870.0,625.01 L870.2,623.62 L870.3,622.25 L870.5,620.89 L870.7,619.56 L870.8,618.24 L871.0,616.95 L871.2,615.68 L871.3,614.44 L871.5,612.86 L871.7,611.34 L871.9,609.86 L872.1,608.43 L872.3,607.02 L872.5,605.65 L872.7,604.30 L872.9,602.96 L873.1,601.62 L873.2,600.29 L873.4,598.95 L873.6,597.60 L873.8,596.23 L874.0,594.84 L874.2,593.41 L874.4,591.94 L874.5,590.60 L874.7,589.22 L874.9,587.82 L875.0,586.40 L875.2,584.96 L875.4,583.50 L875.6,582.04 L875.7,580.58 L875.9,579.11 L876.1,577.65 L876.2,576.21 L876.4,574.77 L876.6,573.36 L876.8,571.97 L876.9,570.61 L877.1,569.29 L877.2,568.00 L877.4,566.76 L877.6,565.10 L877.8,563.52 L878.0,562.00 L878.3,560.53 L878.5,559.10 L878.7,557.70 L878.9,556.33 L879.1,554.96 L879.2,553.60 L879.4,552.24 L879.6,550.85 L879.8,549.45 L880.0,548.00 L880.2,546.67 L880.4,545.37 L880.5,544.11 L880.7,542.86 L880.9,541.61 L881.0,540.36 L881.2,539.10 L881.4,537.80 L881.5,536.46 L881.7,535.06 L881.9,533.60 L882.1,532.06 L882.3,530.44 L882.5,528.71 L882.6,527.55 L882.7,526.34 L882.8,525.08 L883.0,523.77 L883.1,522.43 L883.2,521.05 L883.4,519.64 L883.5,518.21 L883.7,516.76 L883.8,515.29 L883.9,513.81 L884.1,512.33 L884.2,510.84 L884.4,509.36 L884.5,507.88 L884.7,506.42 L884.8,504.98 L884.9,503.55 L885.1,502.16 L885.2,500.79 L885.4,499.46 L885.5,498.17 L885.7,496.63 L885.8,495.11 L886.0,493.61 L886.2,492.12 L886.4,490.66 L886.5,489.20 L886.7,487.77 L886.9,486.35 L887.0,484.95 L887.2,483.56 L887.4,482.19 L887.6,480.83 L887.7,479.49 L887.9,478.16 L888.1,476.85 L888.2,475.55 L888.4,474.26 L888.5,472.99 L888.7,471.40 L888.9,469.87 L889.1,468.40 L889.3,466.97 L889.5,465.57 L889.7,464.19 L889.8,462.82 L890.0,461.45 L890.2,460.07 L890.4,458.67 L890.6,457.23 L890.8,455.76 L891.0,454.22 L891.2,452.63 L891.4,451.34 L891.5,450.00 L891.7,448.62 L891.9,447.21 L892.1,445.78 L892.3,444.32 L892.5,442.85 L892.7,441.36 L892.9,439.88 L893.1,438.39 L893.3,436.92 L893.5,435.46 L893.7,434.02 L893.9,432.61 L894.1,431.23 L894.3,429.89 L894.5,428.59 L894.6,427.34 L894.9,425.69 L895.1,424.11 L895.4,422.60 L895.6,421.13 L895.9,419.71 L896.1,418.33 L896.3,416.96 L896.6,415.61 L896.8,414.26 L897.0,412.91 L897.2,411.53 L897.5,410.13 L897.7,408.69 L897.9,407.34 L898.0,405.97 L898.2,404.60 L898.4,403.23 L898.6,401.85 L898.7,400.47 L898.9,399.09 L899.1,397.71 L899.2,396.32 L899.4,394.94 L899.6,393.55 L899.7,392.17 L899.9,390.78 L900.1,389.41 L900.3,388.03 L900.5,386.65 L900.6,385.27 L900.8,383.89 L901.0,382.52 L901.2,381.14 L901.4,379.76 L901.6,378.38 L901.8,377.01 L902.0,375.63 L902.1,374.25 L902.3,372.87 L902.5,371.49 L902.7,370.12 L902.9,368.73 L903.2,367.32 L903.4,365.91 L903.6,364.48 L903.8,363.05 L904.0,361.63 L904.2,360.20 L904.5,358.79 L904.7,357.40 L904.9,355.19 L905.1,354.51 L905.3,353.84 L905.6,352.81 L905.8,351.69 L906.0,350.30 L906.3,348.53 L906.6,346.80 L906.9,345.40 L907.2,344.30 L907.4,343.22 L907.7,341.30 L908.0,339.22 L908.3,337.17 L908.5,336.05 L908.8,334.99 L909.2,333.76 L909.5,332.61 L909.9,331.52 L910.2,330.53 L910.6,329.69 L910.9,328.85 L911.3,327.82 L911.6,326.52 L911.9,325.15 L912.1,323.52 L912.3,321.59 L912.5,319.57 L912.7,317.92 L912.8,316.30 L913.0,314.85 L913.2,313.63 L913.4,312.51 L913.6,311.46 L913.9,310.54 L914.8,309.06 L915.9,308.60 L917.0,308.39 L917.9,307.85 L918.4,306.27 L918.8,304.12 L919.2,302.08 L919.5,301.30 L920.0,300.74 L921.3,300.14 L923.0,300.05 L924.1,300.14 L925.4,300.44 L926.7,301.02 L928.1,301.88 L929.1,302.58 L930.1,303.39 L931.3,304.31 L932.3,305.22 L933.3,306.16 L934.2,307.10 L934.8,308.08 L935.4,309.22 L935.8,310.58 L936.2,311.95 L936.7,313.12 L937.2,313.97 L938.3,314.46 L939.5,314.12 L941.3,314.35 L942.5,315.01 L944.0,315.86 L945.7,315.65 L947.4,315.44 L948.9,315.81 L950.3,316.23 L952.0,316.63 L953.5,317.08 L954.8,317.43 L956.3,317.51 L957.7,317.16 L959.0,316.88 L960.5,316.72 L962.5,316.67 L963.7,316.65 L965.0,316.77 L966.4,316.91 L967.9,317.16 L969.5,317.80 L971.2,318.44 L972.9,318.44 L974.6,318.17 L976.0,318.13 L977.4,318.61 L978.9,319.08 L980.5,319.12 L982.1,318.85 L983.7,318.57 L985.2,318.46 L986.8,318.34 L988.2,317.84 L989.6,317.01 L990.9,316.23 L992.6,315.51 L994.1,315.04 L995.5,314.59 L996.9,314.26 L998.1,313.88 L999.4,313.50 L1000.8,313.31 L1002.1,313.09 L1003.3,312.75 L1004.5,312.27 L1005.7,311.75 L1007.0,310.93 L1008.3,309.86 L1009.6,308.74 L1011.1,307.59 L1012.3,306.70 L1013.5,305.92 L1014.8,305.30 L1016.2,304.65 L1017.5,303.99 L1018.9,303.33 L1020.3,302.59 L1021.6,301.76 L1022.9,300.95 L1024.1,300.17 L1025.3,299.42 L1026.6,298.53 L1027.8,297.68 L1029.0,296.83 L1030.1,295.77 L1031.1,294.67 L1032.2,293.53 L1033.2,292.10 L1034.3,290.64 L1035.4,289.63 L1036.5,289.30 L1037.7,288.96 L1038.8,287.59 L1039.9,286.00 L1041.0,284.66 L1042.2,283.86 L1043.3,283.07 L1044.4,281.91 L1045.6,280.68 L1046.7,279.60 L1047.8,278.91 L1048.9,278.23 L1050.1,276.91 L1051.2,275.36 L1052.3,273.91 L1053.4,272.92 L1054.6,271.93 L1055.7,270.91 L1056.8,269.86 L1057.9,268.81 L1059.1,267.67 L1060.2,266.53 L1061.3,265.85 L1062.4,265.51 L1063.6,265.13 L1064.7,263.78 L1065.8,262.43 L1066.9,261.11 L1068.1,259.78 L1069.2,258.46 L1070.3,257.45 L1071.4,256.44 L1072.6,255.72 L1073.7,255.26 L1074.8,254.82 L1075.9,253.44 L1077.1,252.07 L1078.2,250.78 L1079.3,249.66 L1080.5,248.56 L1081.6,247.90 L1082.7,247.59 L1083.8,247.30 L1085.0,246.58 L1086.1,245.70 L1087.4,244.73 L1088.6,244.22 L1089.9,243.76 L1091.1,243.01 L1092.4,241.49 L1093.7,240.02 L1094.9,239.19 L1096.2,238.91 L1097.6,238.61 L1098.9,238.32 L1100.2,238.06 L1101.6,237.82 L1103.0,237.36 L1104.6,236.95 L1106.4,236.62 L1107.6,236.46 L1108.9,236.32 L1110.2,235.59 L1111.6,234.67 L1113.1,233.75 L1114.6,233.79 L1116.1,233.91 L1117.7,233.92 L1119.3,233.66 L1120.9,233.40 L1122.6,233.36 L1123.9,233.37 L1125.3,233.47 L1126.8,234.15 L1128.4,234.86 L1129.9,235.04 L1131.5,234.65 L1133.1,234.27 L1134.6,234.57 L1136.2,234.91 L1137.7,234.97 L1139.1,234.51 L1140.4,234.08 L1141.7,234.03 L1142.8,234.43 L1144.7,235.14 L1146.3,235.13 L1147.5,234.99 L1148.7,234.90 L1149.9,234.95 L1151.2,235.06 L1152.9,235.16 L1154.2,235.72 L1155.5,236.34 L1156.8,237.00 L1158.3,237.39 L1159.8,237.78 L1161.3,237.95 L1162.8,237.40 L1164.4,236.85 L1166.0,237.26 L1167.6,238.06 L1169.1,238.77 L1170.5,238.92 L1171.8,239.25 L1173.2,239.54 L1174.7,239.77 L1176.1,240.02 L1177.6,240.40 L1179.0,240.83 L1180.4,241.26 L1181.9,241.58 L1183.3,241.89 L1184.7,242.23 L1186.1,242.61 L1187.4,242.98 L1189.0,243.40 L1190.5,243.82 L1192.0,244.24 L1193.5,244.75 L1194.9,245.25 L1196.4,245.70 L1197.8,246.09 L1199.3,246.48 L1200.7,246.74 L1202.2,246.95 L1203.6,247.16 L1205.1,247.44 L1206.6,247.72 L1208.1,248.07 L1209.6,248.51 L1211.1,248.93 L1212.6,249.36 L1214.1,249.77 L1215.6,250.10 L1217.0,250.21 L1218.4,250.31 L1219.8,250.49 L1221.5,250.79 L1223.1,251.05 L1224.6,251.21 L1226.1,251.34 L1227.6,251.55 L1229.2,251.88 L1230.7,252.21 L1232.3,252.30 L1234.0,252.34 L1235.4,252.35 L1236.8,252.30 L1238.3,252.26 L1239.8,252.29 L1241.3,252.39 L1242.8,252.49 L1244.3,252.64 L1245.8,252.79 L1247.3,252.91 L1248.7,252.97 L1250.2,253.01 L1251.7,253.01 L1253.1,252.97 L1254.5,252.91 L1255.9,252.69 L1257.3,252.40 L1258.7,252.10 L1260.1,251.93 L1261.5,251.78 L1263.0,251.62 L1264.5,251.60 L1265.9,251.57 L1267.3,251.46 L1268.8,251.15 L1270.3,250.84 L1271.7,250.55 L1273.2,250.26 L1274.7,249.96 L1276.2,249.70 L1277.7,249.43 L1279.2,249.23 L1280.7,249.14 L1282.2,249.05 L1283.7,248.62 L1285.2,248.07 L1286.7,247.55 L1288.2,247.28 L1289.8,247.00 L1291.2,246.62 L1292.7,246.18 L1294.2,245.75 L1295.6,245.41 L1296.9,245.08 L1298.5,244.72 L1300.0,244.46 L1301.4,244.20 L1302.8,243.88 L1304.2,243.52 L1305.6,243.16 L1307.0,242.58 L1308.5,241.97 L1310.0,241.39 L1311.3,241.01 L1312.6,240.61 L1314.0,240.30 L1315.4,240.12 L1316.8,239.93 L1318.2,239.54 L1319.6,239.03 L1321.1,238.52 L1322.5,238.12 L1323.9,237.73 L1325.3,237.39 L1326.8,237.34 L1328.2,237.29 L1329.6,237.06 L1331.0,236.61 L1332.4,236.15 L1333.8,235.87 L1335.3,235.69 L1336.8,235.49 L1338.5,235.02 L1340.2,234.52 L1341.5,234.33 L1342.9,234.24 L1344.4,234.16 L1345.9,233.83 L1347.5,233.45 L1349.1,233.08 L1350.7,232.73 L1352.3,232.38 L1353.9,232.08 L1355.5,231.78 L1356.9,231.54 L1358.3,231.44 L1359.6,231.32 L1360.7,231.14 L1361.7,230.88 L1364.0,230.00 L1365.4,229.09 L1366.3,228.15 L1367.0,227.15 L1367.8,226.06 L1369.1,224.35 L1370.1,223.21 L1371.2,222.70 L1372.5,223.11 L1373.8,223.88 L1375.5,224.32 L1376.8,224.22 L1378.5,224.03 L1380.3,223.78 L1381.9,223.44 L1383.2,223.30 L1384.7,223.82 L1385.7,224.76 L1386.7,225.23 L1388.1,224.74 L1389.3,223.25 L1389.8,222.10 L1390.2,220.59 L1390.6,219.05 L1391.1,217.59 L1391.5,216.94 L1391.9,217.37 L1392.3,218.49 L1392.7,220.39 L1393.1,222.18 L1393.5,223.36 L1395.4,223.70 L1396.5,223.89 L1397.9,224.11 L1399.5,224.36 L1401.2,224.48 L1402.9,224.35 L1404.4,224.17 L1405.7,224.10 L1407.1,223.67 L1407.9,222.95 L1409.0,222.43 L1410.9,222.42 L1411.9,222.62 L1413.1,222.71 L1414.4,222.86 L1415.8,223.05 L1417.3,223.11 L1418.8,223.17 L1420.5,223.22 L1422.3,223.27 L1424.2,223.39 L1426.3,223.91 L1427.5,224.21 L1428.8,224.23 L1430.2,224.13 L1431.6,224.02 L1433.0,224.18 L1434.5,224.39 L1436.1,224.56 L1437.6,224.51 L1439.2,224.46 L1440.8,224.51 L1442.4,224.62 L1444.1,224.69 L1445.7,224.50 L1447.3,224.32 L1448.9,224.45 L1450.5,224.72 L1452.1,224.91 L1453.5,224.79 L1454.9,224.67 L1456.3,224.64 L1457.8,224.75 L1459.2,224.85 L1460.6,225.00 L1462.0,225.19 L1463.4,225.38 L1464.9,225.46 L1466.3,225.52 L1467.8,225.57 L1469.2,225.43 L1470.7,225.30 L1472.2,225.22 L1473.7,225.30 L1475.2,225.39 L1476.7,225.51 L1478.3,225.65 L1479.9,225.80 L1481.3,225.92 L1482.7,226.05 L1484.1,226.16 L1485.6,226.23 L1487.0,226.30 L1488.5,226.35 L1489.9,226.39 L1491.4,226.43 L1492.9,226.56 L1494.4,226.72 L1495.9,226.90 L1497.4,227.17 L1498.9,227.45 L1500.5,227.68 L1502.0,227.85 L1503.6,228.02 L1505.3,227.84 L1506.9,227.64 L1508.6,227.68 L1510.2,227.95 L1512.0,228.19 L1513.3,228.30 L1514.7,228.41 L1516.2,228.42 L1517.7,228.23 L1519.2,228.04 L1520.8,228.20 L1522.4,228.51 L1524.0,228.72 L1525.6,228.51 L1527.2,228.29 L1528.9,228.36 L1530.5,228.56 L1532.1,228.70 L1533.8,228.70 L1535.4,228.71 L1537.0,228.75 L1538.6,228.79 L1540.2,228.79 L1541.7,228.70 L1543.2,228.61 L1544.7,228.61 L1546.1,228.65 L1547.5,228.69 L1548.8,228.74 L1550.1,228.78 L1551.3,228.83 L1552.5,228.82 L1554.5,228.74 L1556.4,228.73 L1558.2,228.80 L1559.7,228.85 L1561.2,228.75 L1562.6,228.65 L1563.9,228.56 L1565.1,228.51 L1566.3,228.45 L1567.5,228.38 L1568.8,228.22 L1570.0,228.04 L1571.3,227.84 L1572.7,227.86 L1574.2,227.95 L1575.6,228.03 L1577.1,227.87 L1578.5,227.71 L1580.0,227.53 L1581.4,227.31 L1582.9,227.09 L1584.3,226.99 L1585.8,227.01 L1587.2,227.03 L1588.7,226.93 L1590.1,226.80 L1591.5,226.67 L1593.0,226.45 L1594.5,226.23 L1596.0,226.00 L1597.5,225.79 L1599.1,225.58 L1600.6,225.50 L1602.2,225.48 L1603.7,225.43 L1605.3,225.20 L1606.8,224.97 L1608.2,224.80 L1609.6,224.69 L1610.9,224.59 L1612.1,224.53 L1613.3,224.50 L1615.2,224.41 L1616.6,224.15 L1617.8,223.86 L1619.0,223.59 L1620.2,223.43 L1621.6,223.38 L1623.5,223.37 L1624.7,223.31 L1625.9,223.26 L1627.3,223.21 L1628.7,223.01 L1630.2,222.80 L1631.7,222.66 L1633.3,222.80 L1634.9,222.95 L1636.4,222.85 L1638.0,222.63 L1639.5,222.46 L1641.0,222.64 L1642.4,222.83 L1643.8,222.97 L1645.4,223.01 L1647.1,223.05 L1648.7,223.01 L1650.2,222.97 L1651.8,222.93 L1653.3,222.87 L1654.7,222.82 L1656.1,222.94 L1657.5,223.21 L1658.8,223.50 L1660.0,223.72 L1661.8,224.04 L1663.3,224.48 L1664.8,225.19 L1666.1,225.92 L1667.4,226.48 L1668.7,226.75 L1670.1,226.95 L1671.6,227.39 L1673.1,227.96 L1674.6,228.50 L1676.1,228.84 L1677.5,229.19 L1678.9,229.53 L1680.3,229.84 L1681.7,230.28 L1683.0,230.85 L1684.3,231.50 L1685.6,232.14 L1686.9,232.56 L1688.4,232.85 L1689.7,233.09 L1691.1,233.67 L1692.5,234.23 L1693.9,234.63 L1695.4,234.71 L1696.9,234.76 L1698.5,234.98 L1699.9,235.24 L1701.4,235.48 L1703.0,235.55 L1704.6,235.58 L1706.1,235.44 L1707.7,235.15 L1709.2,234.80 L1710.6,234.77 L1712.2,234.67 L1713.6,234.40 L1715.0,233.95 L1716.4,233.44 L1717.8,232.72 L1719.2,231.88 L1720.8,231.09 L1722.2,230.76 L1723.8,230.45 L1725.4,230.16 L1727.0,229.90 L1728.6,229.59 L1730.1,228.98 L1731.6,228.36 L1732.9,227.96 L1734.5,227.59 L1735.9,227.14 L1737.2,226.24 L1738.5,225.38 L1739.7,224.70 L1741.0,224.39 L1742.6,224.18 L1744.1,223.84 L1745.6,223.44 L1747.3,222.72 L1749.1,223.05 L1750.5,223.31 L1752.0,223.64 L1753.6,224.04 L1755.2,224.44 L1756.9,223.96 L1758.4,223.54 L1759.9,223.53 L1761.3,223.84 L1762.9,224.37 L1764.3,225.18 L1765.6,226.07 L1766.8,226.88 L1768.1,227.41 L1769.4,227.82 L1770.7,228.05 L1772.1,228.12 L1773.4,228.15 L1774.8,228.37 L1776.1,228.80 L1777.5,229.37 L1778.8,230.02 L1780.1,230.75 L1781.4,231.65 L1782.7,233.17 L1784.1,234.73 L1785.6,235.62 L1786.8,236.10 L1788.0,236.62 L1789.3,237.51 L1790.6,238.40 L1791.9,239.01 L1793.2,239.11 L1794.5,239.15 L1795.8,239.71 L1797.2,240.64 L1798.6,241.45 L1800.0,241.36 L1801.4,241.08 L1802.8,240.83 L1804.3,241.36 L1805.9,241.94 L1807.3,242.40 L1808.9,242.72 L1810.4,243.04 L1812.1,243.08 L1813.7,243.09 L1815.2,243.36 L1816.7,244.01 L1818.0,244.63 L1819.6,244.94 L1820.9,245.06 L1822.1,245.22 L1823.3,245.56 L1824.6,245.97 L1826.1,246.40 L1827.5,246.93 L1829.0,247.49 L1830.6,247.79 L1832.2,247.44 L1833.8,247.12 L1835.4,248.12 L1836.9,249.26 L1838.3,250.06 L1839.8,250.46 L1841.1,250.98 L1842.3,251.66 L1843.5,252.35 L1844.8,253.11 L1846.4,254.18 L1847.7,254.90 L1849.2,255.07 L1850.7,254.94 L1852.3,254.93 L1854.0,255.84 L1855.6,256.76 L1857.1,257.07 L1858.5,257.20 L1859.9,257.42 L1861.2,257.84 L1862.4,258.30 L1863.7,258.91 L1864.9,259.88 L1866.1,260.87 L1867.3,261.65 L1868.5,262.10 L1869.8,262.55 L1871.0,263.04 L1872.3,263.56 L1873.6,264.08 L1874.9,265.23 L1876.1,266.40 L1877.3,267.33 L1878.5,267.56 L1879.7,267.81 L1880.9,268.53 L1882.0,269.82 L1883.1,271.13 L1884.2,271.95 L1885.4,272.39 L1886.6,272.89 L1887.6,273.90 L1888.6,275.06 L1889.6,276.27 L1890.7,277.50 L1891.7,278.76 L1892.8,279.88 L1893.8,280.59 L1894.9,281.31 L1895.8,282.24 L1896.8,283.31 L1897.7,284.38 L1898.6,285.21 L1899.5,285.99 L1900.3,286.77 L1901.2,287.61 L1902.1,288.46 L1903.0,289.39 L1903.9,290.56 L1904.8,291.66 L1905.7,292.83 L1906.6,294.07 L1907.6,295.32 L1908.5,296.85 L1909.4,298.41 L1910.4,299.80 L1911.3,300.82 L1912.2,301.82 L1913.1,302.94 L1914.0,304.21 L1915.0,305.50 L1915.9,306.98 L1916.8,308.45 L1917.7,309.42 L1918.6,309.97 L1919.5,310.53 L1920.3,311.68 L1921.2,312.91 L1922.0,314.21 L1922.8,315.72 L1923.6,317.23 L1924.4,318.32 L1925.2,319.02 L1925.9,319.71 L1926.7,320.76 L1927.5,321.89 L1928.3,323.01 L1929.1,324.54 L1930.0,326.03 L1930.9,327.29 L1931.7,328.28 L1932.6,329.26 L1933.5,330.58 L1934.4,331.99 L1935.4,333.35 L1936.2,334.38 L1937.1,335.42 L1938.0,336.73 L1939.0,338.19 L1939.9,339.64 L1940.8,340.83 L1941.7,342.02 L1942.6,343.05 L1943.5,343.92 L1944.3,344.78 L1945.1,346.12 L1946.0,347.57 L1946.8,349.00 L1947.5,350.03 L1948.3,351.07 L1949.1,352.10 L1949.8,353.05 L1950.5,354.03 L1951.1,355.63 L1951.7,357.68 L1952.2,359.69 L1952.7,360.57 L1953.2,361.44 L1953.8,362.61 L1954.3,363.92 L1954.9,365.16 L1955.6,366.34 L1956.5,367.55 L1957.5,368.87 L1958.6,370.37 L1959.7,371.81 L1960.8,373.01 L1961.8,374.19 L1962.8,375.35 L1963.7,376.38 L1964.5,377.49 L1965.2,378.56 L1965.8,379.55 L1966.3,380.55 L1966.9,381.68 L1967.5,382.79 L1968.1,383.83 L1968.8,384.69 L1969.9,385.63 L1971.1,386.60 L1972.3,387.99 L1973.5,389.32 L1974.8,390.31 L1975.9,391.20 L1977.0,392.25 L1978.0,393.30 L1979.0,394.38 L1980.0,395.70 L1981.0,397.00 L1982.0,398.06 L1983.4,398.73 L1984.8,399.04 L1986.3,399.37 L1988.1,400.09 L1989.3,400.53 L1990.7,400.55 L1992.1,400.40 L1993.6,400.25 L1995.2,399.92 L1996.7,399.68 L1998.2,399.90 L1999.6,400.82 L2001.1,401.85 L2002.6,401.95 L2004.1,401.85 L2005.6,402.19 L2007.0,403.29 L2008.3,404.39 L2009.6,405.12 L2010.8,405.79 L2011.9,406.48 L2013.1,407.18 L2014.2,407.91 L2015.3,408.68 L2016.4,409.48 L2017.4,410.20 L2018.4,411.23 L2019.5,412.66 L2020.5,414.12 L2021.5,414.97 L2022.5,415.38 L2023.5,415.82 L2024.5,417.16 L2025.4,418.52 L2026.3,419.94 L2027.3,421.29 L2028.2,422.68 L2029.1,423.76 L2030.0,424.25 L2030.9,424.73 L2031.8,425.59 L2032.6,426.67 L2033.6,427.82 L2034.5,429.17 L2035.4,430.52 L2036.3,431.84 L2037.2,432.81 L2038.1,433.81 L2038.9,434.90 L2039.7,436.17 L2040.5,437.49 L2041.3,438.87 L2042.1,440.30 L2042.8,441.71 L2043.6,442.52 L2044.3,443.34 L2045.1,444.54 L2045.8,446.03 L2046.5,447.37 L2047.1,448.64 L2047.8,449.93 L2048.4,451.16 L2049.1,452.27 L2049.7,453.37 L2050.4,455.13 L2051.1,457.03 L2051.9,458.79 L2052.7,459.85 L2053.6,460.86 L2054.6,461.84 L2055.6,462.82 L2056.6,463.79 L2057.5,464.44 L2058.4,464.97 L2059.3,465.53 L2060.0,467.15 L2060.7,469.18 L2061.2,471.07 L2061.7,472.42 L2062.1,473.79 L2062.5,475.06 L2062.9,476.28 L2063.4,477.58 L2064.0,479.20 L2064.7,480.62 L2065.4,481.77 L2066.2,482.73 L2067.1,483.69 L2067.9,484.68 L2068.8,485.66 L2069.6,486.65 L2070.4,487.69 L2071.1,488.73 L2071.8,489.95 L2072.5,491.24 L2073.1,492.50 L2073.7,493.61 L2074.3,494.64 L2074.9,495.68 L2075.5,496.99 L2076.2,498.46 L2076.8,499.79 L2077.5,501.22 L2078.2,502.68 L2078.9,504.14 L2079.6,505.28 L2080.3,506.43 L2081.0,507.63 L2081.7,508.96 L2082.3,510.30 L2082.9,511.57 L2083.5,512.78 L2084.0,514.03 L2084.5,515.07 L2085.1,516.07 L2085.6,517.19 L2086.1,518.68 L2086.7,520.10 L2087.3,521.29 L2088.1,522.45 L2089.0,523.44 L2089.9,524.55 L2090.8,525.73 L2091.7,526.95 L2092.6,527.93 L2093.4,528.95 L2094.0,529.87 L2094.6,530.87 L2095.2,531.93 L2095.8,533.12 L2096.3,534.74 L2096.9,536.36 L2097.4,537.93 L2098.0,539.44 L2098.5,540.86 L2099.1,541.79 L2099.8,542.45 L2100.4,543.10 L2101.0,544.70 L2101.6,546.34 L2102.2,547.91 L2102.9,548.45 L2103.5,549.01 L2104.1,549.73 L2104.8,551.10 L2105.4,552.46 L2106.1,553.76 L2106.7,554.94 L2107.4,556.13 L2108.0,557.57 L2108.6,559.21 L2109.3,560.86 L2109.9,562.31 L2110.5,563.73 L2111.2,565.12 L2111.8,566.27 L2112.4,567.45 L2113.1,568.55 L2113.7,569.61 L2114.3,570.63 L2114.8,572.48 L2115.4,574.40 L2116.0,575.82 L2116.5,576.82 L2117.1,577.85 L2117.7,579.16 L2118.2,580.39 L2118.8,581.77 L2119.6,583.96 L2120.5,585.79 L2121.3,586.78 L2122.2,587.72 L2123.0,588.81 L2123.8,590.14 L2124.4,591.31 L2125.0,592.40 L2125.6,593.48 L2126.2,594.60 L2126.8,595.98 L2127.3,597.59 L2127.8,599.30 L2128.2,600.17 L2128.5,601.13 L2128.8,602.42 L2129.0,604.24 L2129.3,606.10 L2129.6,607.57 L2129.9,608.98 L2130.2,610.45 L2130.5,611.95 L2130.9,613.33 L2131.5,614.49 L2132.0,615.43 L2132.7,616.28 L2133.3,617.57 L2134.0,618.84 L2134.6,620.16 L2135.3,621.26 L2135.9,622.49 L2136.4,623.54 L2137.0,624.60 L2137.5,625.70 L2138.1,626.91 L2138.6,628.21 L2139.2,629.53 L2139.7,631.26 L2140.2,632.99 L2140.6,634.37 L2141.1,635.30 L2141.4,636.23 L2141.8,637.94 L2142.1,639.91 L2142.4,641.87 L2142.7,642.64 L2142.9,643.41 L2143.2,644.29 L2143.5,645.54 L2143.7,646.79 L2144.0,648.10 L2144.3,649.49 L2144.6,650.88 L2144.9,652.65 L2145.3,654.60 L2145.6,656.54 L2145.9,657.52 L2146.2,658.41 L2146.5,659.34 L2146.8,660.52 L2147.1,661.70 L2147.4,662.89 L2147.8,664.13 L2148.1,665.35 L2148.4,666.63 L2148.7,667.95 L2149.0,669.28 L2149.3,671.00 L2149.6,672.85 L2149.9,674.72 L2150.2,676.09 L2150.5,677.36 L2150.8,678.67 L2151.1,680.07 L2151.3,681.48 L2151.6,682.89 L2151.9,684.32 L2152.2,685.76 L2152.5,686.68 L2152.8,687.58 L2153.0,688.84 L2153.2,690.74 L2153.4,692.51 L2153.6,693.89 L2153.8,695.12 L2153.9,696.42 L2154.1,698.23 L2154.2,700.05 L2154.4,701.70 L2154.5,703.16 L2154.7,704.63 L2154.9,706.14 L2155.0,707.65 L2155.2,708.89 L2155.5,709.67 L2155.7,710.44 L2155.9,712.18 L2156.2,714.25 L2156.5,716.23 L2156.7,717.69 L2157.0,719.16 L2157.3,720.61 L2157.5,722.07 L2157.8,723.52 L2158.1,724.33 L2158.3,725.09 L2158.5,726.10 L2158.7,727.62 L2158.9,729.13 L2159.1,730.53 L2159.3,731.89 L2159.5,733.25 L2159.7,734.63 L2159.9,736.01 L2160.1,737.75 L2160.3,739.84 L2160.5,741.94 L2160.7,743.41 L2160.9,744.72 L2161.2,746.01 L2161.4,747.22 L2161.6,748.44 L2161.9,749.77 L2162.1,751.26 L2162.4,752.76 L2162.6,754.05 L2162.9,755.25 L2163.1,756.45 L2163.3,757.55 L2163.6,758.63 L2163.8,759.72 L2164.0,761.01 L2164.2,762.30 L2164.4,763.66 L2164.6,765.09 L2164.8,766.51 L2165.0,768.41 L2165.1,770.35 L2165.3,772.04 L2165.5,773.03 L2165.6,774.02 L2165.8,775.34 L2166.0,776.86 L2166.2,778.38 L2166.3,779.89 L2166.5,781.40 L2166.7,782.76 L2166.8,783.87 L2167.0,784.98 L2167.2,786.48 L2167.3,788.09 L2167.5,789.68 L2167.7,791.13 L2167.8,792.58 L2168.0,794.20 L2168.2,795.96 L2168.4,797.72 L2168.6,798.93 L2168.8,800.06 L2169.0,801.25 L2169.3,802.62 L2169.5,804.00 L2169.7,805.71 L2169.9,807.66 L2170.1,809.62 L2170.3,810.73 L2170.4,811.83 L2170.6,813.12 L2170.7,814.80 L2170.9,816.49 L2171.0,817.85 L2171.1,819.11 L2171.2,820.33 L2171.3,821.32 L2171.4,822.30 L2171.5,823.72 L2171.7,825.49 L2171.8,827.26 L2171.9,828.75 L2172.1,830.23 L2172.2,831.68 L2172.4,833.29 L2172.5,834.90 L2172.7,836.17 L2172.9,837.21 L2173.0,838.25 L2173.2,839.79 L2173.4,841.42 L2173.6,843.02 L2173.8,844.26 L2173.9,845.51 L2174.1,846.71 L2174.3,847.83 L2174.5,848.95 L2174.6,850.52 L2174.8,852.38 L2175.0,854.24 L2175.2,855.16 L2175.4,855.95 L2175.5,856.89 L2175.7,858.82 L2175.9,860.74 L2176.1,862.24 L2176.2,863.12 L2176.4,864.00 L2176.6,865.12 L2176.7,866.36 L2176.9,867.60 L2177.1,869.10 L2177.2,870.61 L2177.4,872.18 L2177.5,873.96 L2177.7,875.74 L2177.8,877.41 L2178.0,878.93 L2178.1,880.45 L2178.3,881.38 L2178.4,882.01 L2178.5,882.64 L2178.7,884.27 L2178.8,886.00 L2178.9,887.68 L2179.1,889.05 L2179.2,890.43 L2179.3,891.91 L2179.4,893.52 L2179.5,895.13 L2179.6,896.26 L2179.7,897.18 L2179.8,898.09 L2179.9,899.69 L2180.0,901.31 L2180.1,902.84 L2180.2,904.10 L2180.3,905.36 L2180.5,906.86 L2180.6,908.59 L2180.8,910.31 L2181.0,911.44 L2181.1,912.36 L2181.3,913.29 L2181.5,915.14 L2181.7,917.00 L2181.8,918.65 L2182.0,919.50 L2182.2,920.36 L2182.4,921.41 L2182.6,922.72 L2182.8,924.02 L2183.0,925.62 L2183.2,927.35 L2183.3,929.08 L2183.5,930.33 L2183.7,931.54 L2183.9,932.73 L2184.1,933.81 L2184.3,934.89 L2184.5,936.30 L2184.7,938.07 L2184.8,939.84 L2185.0,941.00 L2185.2,941.94 L2185.4,942.92 L2185.6,944.82 L2185.8,946.72 L2186.0,948.45 L2186.2,949.74 L2186.4,951.03 L2186.7,952.40 L2186.9,953.83 L2187.1,955.26 L2187.3,956.54 L2187.5,957.78 L2187.7,959.01 L2187.9,960.17 L2188.2,961.32 L2188.4,962.56 L2188.6,963.96 L2188.8,965.37 L2189.0,966.78 L2189.2,968.18 L2189.4,969.58 L2189.7,971.37 L2189.9,973.18 L2190.1,974.66 L2190.3,975.44 L2190.5,976.20 L2190.7,977.72 L2191.0,979.67 L2191.2,981.58 L2191.5,982.43 L2191.7,983.08 L2192.0,983.97 L2192.4,985.61 L2192.7,987.21 L2193.1,988.71 L2193.5,990.15 L2193.9,991.55 L2194.2,993.35 L2194.6,995.15 L2195.0,996.78 L2195.4,997.79 L2195.8,998.79 L2196.2,999.98 L2196.6,1001.27 L2197.0,1002.53 L2197.4,1004.16 L2197.8,1005.87 L2198.3,1007.50 L2198.7,1008.32 L2199.1,1009.14 L2199.4,1010.18 L2199.8,1011.68 L2200.1,1013.21 L2200.5,1014.71 L2200.8,1016.18 L2201.0,1017.66 L2201.3,1019.24 L2201.6,1020.79 L2201.9,1022.26 L2202.2,1023.55 L2202.5,1024.78 L2202.8,1025.90 L2203.3,1027.31 L2203.9,1028.58 L2204.4,1029.65 L2205.0,1030.61 L2205.6,1031.54 L2206.2,1032.61 L2206.9,1033.74 L2207.6,1034.91 L2208.5,1035.98 L2209.3,1037.04 L2210.2,1038.29 L2211.1,1039.89 L2212.0,1041.34 L2212.9,1042.35 L2214.1,1043.07 L2215.3,1043.53 L2216.5,1043.95 L2217.8,1044.44 L2219.1,1045.07 L2220.4,1045.46 L2221.8,1045.72 L2223.3,1046.15 L2224.7,1047.20 L2226.1,1048.27 L2227.3,1049.28 L2228.5,1050.37 L2229.7,1051.45 L2230.9,1052.14 L2232.0,1052.76 L2233.2,1053.25 L2234.8,1053.62 L2236.3,1053.86 L2237.8,1054.59 L2239.3,1055.26 L2240.9,1055.82" stroke="#8000ff" stroke-width="6.5"/>
</g>
<rect x="1099" y="33" width="1181" height="185" fill="#ffffff" stroke="#000000" stroke-width="2" shape-rendering="crispEdges"/>
<rect x="1106" y="79" width="163" height="6" rx="2" ry="2" fill="#ff0080"/>
<rect x="1106" y="165" width="163" height="7" rx="2.5" ry="2.5" fill="#8000ff"/>
<defs><filter id="crisp" x="0" y="0" width="100%" height="100%" filterUnits="userSpaceOnUse" color-interpolation-filters="sRGB"><feComponentTransfer><feFuncA type="discrete" tableValues="0 1"/></feComponentTransfer></filter></defs>
<g font-family="Liberation Sans, Arial, Helvetica, sans-serif" fill="#000000" stroke="#000000" stroke-linejoin="round" stroke-width="0" style="font-kerning:none" text-rendering="geometricPrecision" filter="url(#crisp)">
<text x="1285" y="106" font-size="71" stroke-width="0.8">CSP sample before AR-coating</text>
<text x="1285" y="193" font-size="71" stroke-width="0.8">CSP sample after AR-coating</text>
<text transform="translate(287.8,1408) scale(1,1.088)" font-size="73" letter-spacing="3.35" stroke-width="0.5">1000</text>
<text transform="translate(599.4,1408) scale(1,1.088)" font-size="73" letter-spacing="3.35" stroke-width="0.5">2000</text>
<text transform="translate(911.1,1408) scale(1,1.088)" font-size="73" letter-spacing="3.35" stroke-width="0.5">3000</text>
<text transform="translate(1222.8,1408) scale(1,1.088)" font-size="73" letter-spacing="3.35" stroke-width="0.5">4000</text>
<text transform="translate(1534.4,1408) scale(1,1.088)" font-size="73" letter-spacing="3.35" stroke-width="0.5">5000</text>
<text transform="translate(1846.1,1408) scale(1,1.088)" font-size="73" letter-spacing="3.35" stroke-width="0.5">6000</text>
<text transform="translate(2157.8,1408) scale(1,1.088)" font-size="73" letter-spacing="3.35" stroke-width="0.5">7000</text>
<text transform="translate(282.0,1320.3) scale(1,1.088)" font-size="73" letter-spacing="3.35" stroke-width="0.5">0</text>
<text transform="translate(238.1,1206.7) scale(1,1.088)" font-size="73" letter-spacing="3.35" stroke-width="0.5">10</text>
<text transform="translate(238.1,1093.1) scale(1,1.088)" font-size="73" letter-spacing="3.35" stroke-width="0.5">20</text>
<text transform="translate(238.1,979.5) scale(1,1.088)" font-size="73" letter-spacing="3.35" stroke-width="0.5">30</text>
<text transform="translate(238.1,865.9) scale(1,1.088)" font-size="73" letter-spacing="3.35" stroke-width="0.5">40</text>
<text transform="translate(238.1,752.3) scale(1,1.088)" font-size="73" letter-spacing="3.35" stroke-width="0.5">50</text>
<text transform="translate(238.1,638.8) scale(1,1.088)" font-size="73" letter-spacing="3.35" stroke-width="0.5">60</text>
<text transform="translate(238.1,525.2) scale(1,1.088)" font-size="73" letter-spacing="3.35" stroke-width="0.5">70</text>
<text transform="translate(238.1,411.6) scale(1,1.088)" font-size="73" letter-spacing="3.35" stroke-width="0.5">80</text>
<text transform="translate(238.1,298.0) scale(1,1.088)" font-size="73" letter-spacing="3.35" stroke-width="0.5">90</text>
<text transform="translate(194.1,184.4) scale(1,1.088)" font-size="73" letter-spacing="3.35" stroke-width="0.5">100</text>
<text x="1309.5" y="1549" font-size="92.7" text-anchor="middle">wavelength (nm)</text>
<text transform="translate(103,692.2) rotate(-90)" font-size="93" text-anchor="middle">Transmission (%)</text>
</g>
</svg>
</body>
</html>
